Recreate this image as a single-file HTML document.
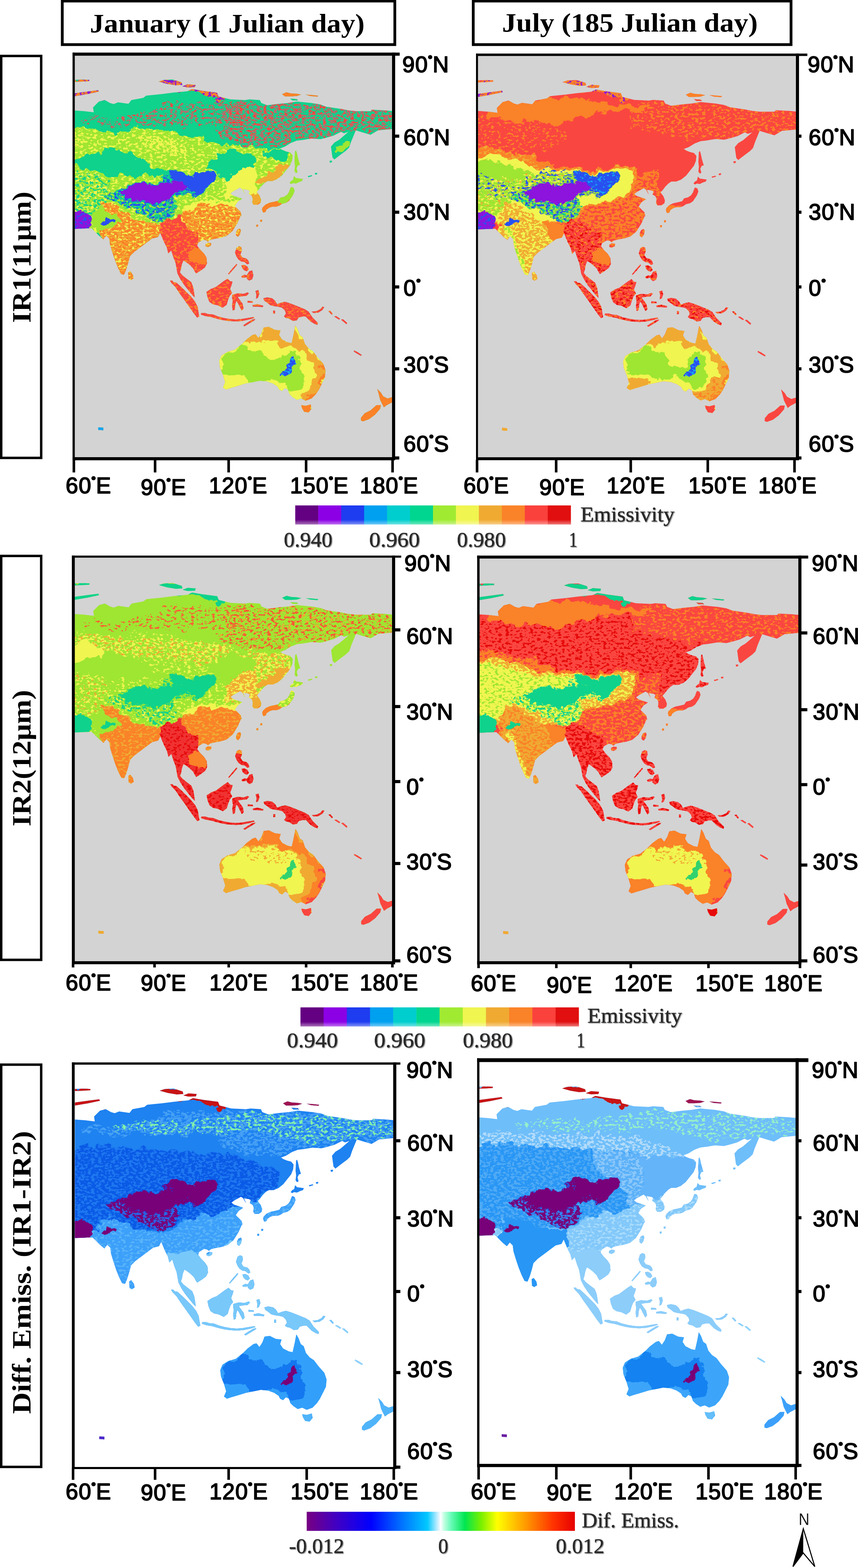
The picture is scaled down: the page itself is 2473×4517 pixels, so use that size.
<!DOCTYPE html>
<html lang="en"><head><meta charset="utf-8"><title>Emissivity maps</title>
<style>html,body{margin:0;padding:0;background:#fff;width:2473px;height:4517px}svg{display:block}.tk{font-family:"Liberation Sans",Arial,Helvetica,sans-serif;font-size:64.5px;fill:#000;stroke:#000;stroke-width:2.4px;stroke-linejoin:round;letter-spacing:1.5px}.dg{font-size:28px;stroke:#000;stroke-width:4.6px}.ti{font-family:"Liberation Serif","Times New Roman",serif;font-weight:bold;font-size:76px;fill:#000}.cb{font-family:"Liberation Serif","Times New Roman",serif;font-size:62px;fill:#2a2a2a;stroke:#2a2a2a;stroke-width:0.7px;filter:drop-shadow(2px 2px 1.2px rgba(90,90,90,0.7))}</style></head><body>
<svg width="2473" height="4517" viewBox="0 0 2473 4517">
<defs>
<path id="land" d="M212.8,318.1L242.6,320.2L270.2,323.6L268.1,309.6L285.1,292.6L302.1,288.3L317.0,296.8L327.7,299.8L340.4,294.7L370.2,298.9L378.7,288.3L412.8,281.9L421.3,275.5L463.8,271.3L497.9,267.0L540.4,262.8L553.2,256.4L583.0,261.5L625.5,267.0L629.8,277.7L663.8,286.2L706.4,288.3L719.1,286.2L748.9,288.3L753.2,296.8L770.2,303.2L804.3,298.9L829.8,296.8L855.3,292.6L897.9,296.8L923.4,301.1L940.4,307.4L983.0,313.8L1004.3,318.1L1025.5,320.2L1068.1,320.2L1072.3,316.0L1110.6,318.1L1134.0,320.2L1134.0,371.3L1110.6,373.4L1089.4,375.5L1068.1,388.3L1046.8,381.9L1025.5,375.5L1012.1,408.0L1006.4,425.0L997.9,433.5L986.5,442.1L975.2,450.6L963.8,459.6L958.2,453.4L956.2,439.2L953.9,422.2L963.8,410.8L978.0,402.3L1004.3,379.8L991.5,384.0L983.0,379.8L961.7,390.4L940.4,396.8L923.4,401.1L897.9,398.9L872.3,403.2L855.3,405.3L838.3,411.7L821.3,422.3L804.3,428.7L807.8,427.9L813.5,432.1L824.8,436.4L836.2,439.2L843.3,447.7L841.8,461.9L836.2,476.1L824.8,490.3L813.5,504.5L799.3,515.8L785.1,521.5L770.9,521.5L762.4,527.2L753.9,535.7L745.4,547.0L739.7,552.7L748.2,564.0L752.5,575.4L751.1,583.9L742.6,590.1L731.2,590.1L727.0,583.9L728.4,572.5L725.5,564.0L717.0,558.4L719.9,549.9L714.2,547.0L700.0,544.7L706.4,559.6L697.9,544.7L691.5,540.4L672.3,551.1L663.8,557.4L672.3,563.8L685.1,568.1L697.9,572.3L685.1,580.9L676.6,593.6L685.1,602.1L693.6,610.6L695.7,623.4L695.7,617.0L684.4,642.6L670.2,665.2L653.2,679.4L636.2,685.1L619.1,687.9L605.0,691.3L599.3,696.5L593.6,692.2L585.1,690.8L570.9,699.3L568.1,707.8L576.6,719.1L587.9,730.5L595.0,741.8L596.5,758.9L590.8,770.2L579.4,778.7L565.2,787.8L561.0,781.6L556.7,773.0L545.4,761.7L534.0,753.2L528.4,750.4L524.1,761.7L521.3,775.9L518.4,784.4L525.5,792.9L539.7,804.3L551.1,812.8L556.7,827.0L559.6,844.0L561.3,856.7L553.9,849.6L542.6,835.5L531.2,821.3L519.9,804.3L511.3,787.2L508.5,770.2L505.7,756.0L500.0,741.8L493.6,721.3L485.1,729.8L480.9,712.8L472.3,695.7L461.7,670.2L455.3,683.0L438.3,687.2L421.3,700.0L404.3,712.8L387.2,725.5L374.5,738.3L370.2,755.3L363.8,776.6L357.4,791.5L348.9,789.4L340.4,772.3L331.9,751.1L323.4,725.5L317.0,704.3L314.9,687.2L306.4,678.7L297.9,689.4L285.1,678.7L274.5,668.1L263.8,657.4L242.6,658.3L212.8,659.6ZM212.8,269.1L242.6,264.9L283.0,259.8L285.1,264.0L251.1,271.3L212.8,277.7ZM212.8,230.0L238.3,229.1L257.4,230.0L257.4,233.8L238.3,235.1L212.8,236.0ZM457.4,235.1L472.3,230.0L497.9,229.1L523.4,237.2L525.5,244.5L506.4,245.7L480.9,241.5ZM525.5,248.7L540.4,242.8L563.8,244.5L561.7,251.3L540.4,252.1ZM812.8,271.3L825.5,265.7L838.3,269.1L855.3,270.0L868.1,272.6L855.3,276.8L838.3,277.7L821.3,277.7ZM880.9,272.6L897.9,273.4L917.0,275.5L914.9,278.5L893.6,276.8ZM836.2,284.0L855.3,285.3L859.6,289.6L842.6,289.6ZM853.2,433.5L856.0,442.1L858.9,456.2L863.1,470.4L864.5,474.7L858.9,476.1L854.6,484.6L857.4,496.0L853.2,498.8L848.9,493.1L850.4,478.9L848.9,464.7L849.8,447.7L850.4,436.4ZM847.5,507.3L853.2,513.0L864.5,514.4L873.0,515.8L870.2,521.5L861.7,524.3L853.2,528.6L844.7,527.2L839.0,530.0L834.8,527.2L839.0,521.5L844.7,518.6ZM839.0,538.5L846.1,541.3L848.9,549.9L844.7,561.2L839.0,569.7L833.3,578.2L824.8,583.9L813.5,586.7L805.0,592.4L796.5,595.2L785.1,595.2L776.6,598.1L768.1,603.8L765.2,610.8L758.2,612.3L755.3,603.8L756.7,598.1L765.2,589.6L776.6,583.9L790.8,581.1L802.1,578.2L807.8,569.7L819.1,566.9L827.7,561.2L833.3,552.7L836.2,544.2ZM680.1,669.5L684.4,661.0L691.5,658.2L694.3,663.8L691.5,675.2L685.8,682.3L680.1,678.0ZM592.2,703.5L599.3,699.3L609.2,700.7L607.8,707.8L599.3,712.1L592.2,709.2ZM369.4,784.3L375.3,780.9L383.0,791.5L385.1,802.1L376.6,807.2L370.2,803.0ZM500.0,812.8L508.5,814.2L522.7,827.0L536.9,841.1L551.1,855.3L562.4,869.5L569.5,883.7L572.3,900.7L574.3,912.1L568.1,914.9L556.7,900.1L545.4,883.7L531.2,863.8L517.0,844.0L505.7,827.0L494.3,815.6L490.1,808.5L497.2,808.5ZM595.0,841.1L607.8,832.6L622.0,827.0L633.3,818.4L644.7,809.9L656.0,802.8L663.1,809.9L670.2,811.3L667.4,821.3L663.1,832.6L668.8,844.0L661.7,852.5L657.4,863.8L653.2,878.0L641.8,886.5L627.7,879.4L613.5,876.6L603.5,869.5L597.9,855.3ZM681.6,713.5L688.7,709.2L695.7,712.1L697.2,722.0L692.9,733.3L698.6,741.8L709.9,744.7L715.6,750.4L718.4,758.9L712.8,761.7L704.3,754.6L695.7,753.2L687.2,747.5L681.6,739.0L677.3,727.7ZM695.7,764.5L704.3,763.1L712.8,767.4L717.0,775.9L711.3,781.6L704.3,778.7L698.6,773.0ZM657.4,788.7L670.2,773.0L681.6,760.3L683.5,763.1L671.6,777.3L659.4,790.6ZM669.5,849.4L685.1,845.1L702.1,846.5L713.5,842.3L717.7,845.1L710.6,852.2L696.5,853.6L685.1,855.6L690.8,863.5L699.3,874.9L702.1,889.1L696.5,894.7L690.8,883.4L685.1,872.1L680.9,866.9L678.0,877.7L676.6,891.9L670.9,894.7L668.9,880.6L670.9,866.4L668.9,857.9ZM736.2,838.0L744.7,835.2L747.5,846.5L743.3,857.9L737.6,860.7L739.0,849.4ZM580.1,901.8L591.5,901.8L600.0,904.7L614.2,906.1L628.4,911.8L645.4,916.0L662.4,918.9L679.4,920.3L696.5,918.9L713.5,916.0L730.5,913.2L733.3,916.0L719.1,920.3L699.3,924.5L679.4,926.0L656.7,924.5L639.7,921.7L622.7,917.4L608.5,913.2L591.5,910.4L578.7,906.1ZM700.7,937.3L713.5,928.8L727.7,920.3L736.2,918.9L733.3,923.1L719.1,931.6L705.0,940.1ZM758.9,859.3L770.2,856.5L784.4,859.3L792.9,866.4L798.6,876.3L809.9,872.1L821.3,869.2L835.5,873.5L849.6,879.1L863.8,884.8L878.0,890.5L889.4,897.6L895.0,906.1L900.7,914.6L909.2,923.1L916.3,930.2L914.9,935.9L906.4,933.0L895.0,926.0L886.5,917.4L880.9,911.8L872.3,911.8L861.0,914.6L855.3,923.1L844.0,924.5L832.6,917.4L824.1,916.0L818.4,911.8L824.1,903.3L821.3,894.7L812.8,886.2L801.4,883.4L790.1,882.0L778.7,879.1L770.2,872.1L761.7,866.4ZM897.9,897.6L912.1,896.2L923.4,890.5L929.1,883.4L934.8,884.8L929.1,893.3L917.7,900.4L903.5,901.8ZM631.9,1039.4L638.3,1024.5L655.3,1013.8L676.6,1007.4L697.9,990.4L710.6,977.7L727.7,964.9L736.2,962.8L744.7,973.4L753.2,960.6L759.6,943.6L774.5,941.5L791.5,950.0L808.5,952.1L804.3,964.9L812.8,977.7L829.8,986.2L840.4,988.3L846.8,960.6L851.1,937.2L857.4,947.9L863.8,964.9L872.3,971.3L878.7,990.4L889.4,1003.2L902.1,1011.7L914.9,1028.7L931.9,1047.9L938.3,1067.0L936.2,1088.3L927.7,1105.3L919.1,1122.3L910.6,1135.1L897.9,1147.9L880.9,1154.3L868.1,1147.9L855.3,1152.1L842.6,1143.6L834.0,1135.1L829.8,1122.3L821.3,1118.1L812.8,1126.6L804.3,1122.3L800.0,1113.8L787.2,1105.3L770.2,1098.9L748.9,1096.8L727.7,1101.1L706.4,1105.3L685.1,1111.7L663.8,1118.1L651.1,1122.3L642.6,1116.0L648.9,1101.1L642.6,1079.8L634.0,1058.5ZM868.1,1167.0L880.9,1169.1L895.7,1164.9L897.9,1177.7L889.4,1188.3L876.6,1186.2L870.2,1175.5ZM1087.2,1120.2L1097.9,1130.9L1104.3,1141.5L1117.0,1147.9L1134.0,1142.8L1134.0,1157.2L1114.9,1167.0L1106.4,1173.4L1102.1,1164.9L1095.7,1152.1L1091.5,1135.1ZM1040.4,1203.2L1051.1,1190.4L1068.1,1181.9L1085.1,1167.0L1097.9,1167.0L1095.7,1177.7L1080.9,1194.7L1063.8,1207.4L1046.8,1213.8L1040.4,1211.7ZM1020.4,1009.6L1029.8,1013.8L1042.6,1022.3L1040.4,1025.3L1027.7,1018.1L1019.6,1012.6ZM283.0,1230.9L297.9,1231.7L297.9,1239.4L283.0,1238.5ZM711.3,792.9L718.4,781.6L727.0,778.7L730.4,792.9L727.0,804.3L718.4,808.5L711.3,802.8ZM695.7,795.7L704.3,791.5L711.3,792.9L711.3,798.6L702.8,800.0L697.2,800.0ZM727.7,879.1L741.8,876.3L758.9,880.6L757.4,884.8L741.8,883.4L729.1,883.4ZM713.5,866.4L727.7,867.8L729.1,872.1L713.5,872.1ZM946.1,896.2L951.8,895.3L958.9,903.8L956.0,906.7ZM963.1,911.8L968.8,910.4L980.1,918.0L977.3,920.8ZM983.0,920.8L988.7,919.7L1000.6,930.2L998.6,933.9ZM787.2,894.7L792.9,894.7L792.9,903.3L787.2,903.3ZM949.6,463.3L956.7,462.5L956.7,467.6L951.1,469.0ZM907.1,498.8L914.2,497.4L914.2,502.2L908.5,503.3ZM887.2,507.3L898.6,504.5L900.0,507.3L888.7,510.7ZM749.6,633.5L755.3,632.7L755.3,638.4L750.5,639.2ZM738.3,647.7L744.0,646.9L744.0,652.5L739.1,653.4Z"/>
<clipPath id="landclip"><use href="#land"/></clipPath>
<clipPath id="frame"><rect x="215.6" y="160.5" width="915.4" height="1156.5"/></clipPath>
<filter id="sp50" x="-15%" y="-15%" width="130%" height="130%" color-interpolation-filters="sRGB"><feTurbulence type="fractalNoise" baseFrequency="0.035" numOctaves="4" seed="7" result="t"/><feDisplacementMap in="SourceGraphic" in2="t" scale="34" xChannelSelector="R" yChannelSelector="G" result="d"/><feTurbulence type="fractalNoise" baseFrequency="0.1 0.16" numOctaves="3" seed="3" result="n"/><feColorMatrix in="n" type="matrix" values="0 0 0 0 0  0 0 0 0 0  0 0 0 0 0  30 0 0 0 -15.40" result="m"/><feComposite in="d" in2="m" operator="in"/></filter>
<filter id="sp30" x="-15%" y="-15%" width="130%" height="130%" color-interpolation-filters="sRGB"><feTurbulence type="fractalNoise" baseFrequency="0.035" numOctaves="4" seed="7" result="t"/><feDisplacementMap in="SourceGraphic" in2="t" scale="34" xChannelSelector="R" yChannelSelector="G" result="d"/><feTurbulence type="fractalNoise" baseFrequency="0.1 0.16" numOctaves="3" seed="11" result="n"/><feColorMatrix in="n" type="matrix" values="0 0 0 0 0  0 0 0 0 0  0 0 0 0 0  0 30 0 0 -16.90" result="m"/><feComposite in="d" in2="m" operator="in"/></filter>
<filter id="sp60" x="-15%" y="-15%" width="130%" height="130%" color-interpolation-filters="sRGB"><feTurbulence type="fractalNoise" baseFrequency="0.035" numOctaves="4" seed="7" result="t"/><feDisplacementMap in="SourceGraphic" in2="t" scale="34" xChannelSelector="R" yChannelSelector="G" result="d"/><feTurbulence type="fractalNoise" baseFrequency="0.1 0.16" numOctaves="3" seed="23" result="n"/><feColorMatrix in="n" type="matrix" values="0 0 0 0 0  0 0 0 0 0  0 0 0 0 0  0 0 30 0 -14.50" result="m"/><feComposite in="d" in2="m" operator="in"/></filter>
<filter id="sp20" x="-15%" y="-15%" width="130%" height="130%" color-interpolation-filters="sRGB"><feTurbulence type="fractalNoise" baseFrequency="0.035" numOctaves="4" seed="7" result="t"/><feDisplacementMap in="SourceGraphic" in2="t" scale="34" xChannelSelector="R" yChannelSelector="G" result="d"/><feTurbulence type="fractalNoise" baseFrequency="0.1 0.16" numOctaves="3" seed="5" result="n"/><feColorMatrix in="n" type="matrix" values="0 0 0 0 0  0 0 0 0 0  0 0 0 0 0  0 0 30 0 -18.10" result="m"/><feComposite in="d" in2="m" operator="in"/></filter>
<filter id="sp10" x="-15%" y="-15%" width="130%" height="130%" color-interpolation-filters="sRGB"><feTurbulence type="fractalNoise" baseFrequency="0.035" numOctaves="4" seed="7" result="t"/><feDisplacementMap in="SourceGraphic" in2="t" scale="34" xChannelSelector="R" yChannelSelector="G" result="d"/><feTurbulence type="fractalNoise" baseFrequency="0.1 0.16" numOctaves="3" seed="17" result="n"/><feColorMatrix in="n" type="matrix" values="0 0 0 0 0  0 0 0 0 0  0 0 0 0 0  30 0 0 0 -19.30" result="m"/><feComposite in="d" in2="m" operator="in"/></filter>
<filter id="rough" x="-15%" y="-15%" width="130%" height="130%" color-interpolation-filters="sRGB"><feTurbulence type="fractalNoise" baseFrequency="0.035" numOctaves="4" seed="7" result="t"/><feDisplacementMap in="SourceGraphic" in2="t" scale="34" xChannelSelector="R" yChannelSelector="G"/></filter>
</defs>
<rect width="2473" height="4517" fill="#fff"/>
<rect x="179.5" y="3.0" width="958.5" height="125.5" fill="#fff" stroke="#000" stroke-width="8"/>
<rect x="1364.0" y="3.0" width="916" height="125.5" fill="#fff" stroke="#000" stroke-width="8"/>
<text class="ti" x="259" y="93" textLength="792" lengthAdjust="spacingAndGlyphs">January (1 Julian day)</text>
<text class="ti" x="1447" y="90.5" textLength="737" lengthAdjust="spacingAndGlyphs">July (185 Julian day)</text>
<rect x="3.5" y="161.2" width="115.2" height="1157.8999999999999" fill="#fff" stroke="#000" stroke-width="7"/>
<text class="ti" transform="translate(88,930.0) rotate(-90)" textLength="378" lengthAdjust="spacingAndGlyphs">IR1(11μm)</text>
<rect x="3.5" y="1601.5" width="115.2" height="1163.6" fill="#fff" stroke="#000" stroke-width="7"/>
<text class="ti" transform="translate(88,2380.5) rotate(-90)" textLength="393" lengthAdjust="spacingAndGlyphs">IR2(12μm)</text>
<rect x="3.5" y="3067.0" width="115.2" height="1158.8000000000002" fill="#fff" stroke="#000" stroke-width="7"/>
<text class="ti" transform="translate(88,4073.0) rotate(-90)" textLength="815" lengthAdjust="spacingAndGlyphs">Diff. Emiss. (IR1-IR2)</text>
<g id="panel1">
<rect x="215.6" y="160.5" width="914.4" height="1156.5" fill="#d3d3d3"/>
<clipPath id="fr1"><rect x="215.6" y="160.5" width="914.4" height="1156.5"/></clipPath>
<g clip-path="url(#fr1)"><g transform="translate(0,0)">
<g clip-path="url(#landclip)"><rect x="150" y="100" width="1050" height="1300" fill="#0fd28c"/><path d="M200,360L253,369L289,383L317,386L342,383L370,376L399,370L427,369L455,372L484,379L512,386L540,390L572,394L590,404L626,418L661,422L696,420L721,422L756,429L799,429L849,432L870,436L870,680L579,680L200,680Z" fill="#9ee632" filter="url(#rough)"/><path d="M200,360L253,369L289,383L317,386L342,383L370,376L399,370L427,369L455,372L484,379L512,386L540,390L572,394L590,404L626,418L661,422L696,420L721,422L756,429L799,429L849,432L870,436L870,680L579,680L200,680Z" fill="#f0f550" filter="url(#sp30)"/><path d="M200,379L228,383L250,397L243,415L221,422L200,422Z" fill="#f0f550" filter="url(#sp50)"/><path d="M399,397L448,394L491,401L519,415L540,432L519,447L484,443L448,436L420,422L399,411Z" fill="#f0f550" filter="url(#sp50)"/><path d="M292,432L317,425L342,429L370,440L392,450L413,464L441,479L470,489L498,497L484,507L448,511L420,508L399,508L370,504L342,508L317,508L292,501L271,494L243,486L221,479L200,472L200,459L236,457L264,450L282,440Z" fill="#0fd28c" filter="url(#rough)"/><path d="M626,436L661,432L704,436L732,450L732,510L704,525L679,510L657,525L626,509L608,493L590,479L618,464L633,450Z" fill="#0fd28c" filter="url(#rough)"/><path d="M756,436L799,432L834,440L827,461L799,464L771,457Z" fill="#0fd28c" filter="url(#rough)"/><path d="M686,493L714,479L739,493L742,535L732,564L703,571L671,564L650,578L650,528L671,507Z" fill="#f0f550" filter="url(#rough)"/><path d="M834,472L827,493L806,510L785,525L764,535L742,535L749,514L771,500L792,486L813,473Z" fill="#f0aa32" filter="url(#rough)"/><path d="M200,493L236,493L271,500L299,510L314,535L306,564L303,592L289,617L271,620L243,610L200,604Z" fill="#9ee632" filter="url(#rough)"/><path d="M200,493L236,493L271,500L299,510L314,535L306,564L303,592L289,617L271,620L243,610L200,604Z" fill="#0fd28c" filter="url(#sp50)"/><path d="M200,493L236,493L271,500L299,510L314,535L306,564L303,592L289,617L271,620L243,610L200,604Z" fill="#f0f550" filter="url(#sp30)"/><path d="M519,610L540,596L562,585L590,578L626,578L661,581L704,585L704,603L661,596L626,592L590,592L562,599L540,610L523,624Z" fill="#f0f550" filter="url(#rough)"/><path d="M289,585L299,590L321,588L342,599L370,617L399,631L427,642L455,645L484,638L505,635L519,620L540,606L562,596L590,588L626,588L661,592L704,599L704,1450L289,1450Z" fill="#fa8228" filter="url(#rough)"/><path d="M289,585L299,590L321,588L342,599L370,617L399,631L427,642L455,645L484,638L505,635L519,620L540,606L562,596L590,588L626,588L661,592L704,599L704,1450L289,1450Z" fill="#f0aa32" filter="url(#sp50)"/><path d="M289,585L299,590L321,588L342,599L370,617L399,631L427,642L455,645L484,638L505,635L519,620L540,606L562,596L590,588L626,588L661,592L704,599L704,1450L289,1450Z" fill="#f0f550" filter="url(#sp20)"/><path d="M721,553L756,553L756,599L721,599Z" fill="#f0aa32" filter="url(#rough)"/><path d="M742,585L799,564L834,550L856,564L827,599L756,628Z" fill="#fa8228" filter="url(#rough)"/><path d="M806,557L834,528L842,500L884,500L884,535L849,564L827,585L810,578Z" fill="#9ee632" filter="url(#rough)"/><path d="M842,429L877,429L877,507L842,507Z" fill="#9ee632" filter="url(#rough)"/><path d="M464,634L496,628L517,641L537,661L564,675L584,702L604,729L611,756L631,769L672,742L712,702L1143,702L1143,971L456,971L456,688Z" fill="#fa4640" filter="url(#rough)"/><path d="M462,635L484,629L505,626L519,620L530,635L537,656L555,680L555,741L470,741L462,670Z" fill="#fa4640" filter="url(#rough)"/><path d="M464,634L496,628L517,641L537,661L564,675L584,702L604,729L611,756L631,769L672,742L712,702L1143,702L1143,971L456,971L456,688Z" fill="#fa8228" filter="url(#sp30)"/><path d="M540,725L564,712L591,722L599,749L588,766L564,769L547,752Z" fill="#fa8228" filter="url(#rough)"/><path d="M267,617L292,592L306,599L342,620L342,635L317,656L292,666L271,656Z" fill="#9ee632" filter="url(#rough)"/><path d="M306,564L335,553L352,546L384,532L413,525L441,521L470,514L491,500L526,494L555,502L583,498L608,498L621,510L610,526L592,541L578,555L562,566L540,560L519,564L505,574L484,581L455,585L427,587L399,583L370,576L352,567L335,566L317,571Z" fill="#0fd28c" filter="url(#rough)"/><path d="M306,564L335,553L352,546L384,532L413,525L441,521L470,514L491,500L526,494L555,502L583,498L608,498L621,510L610,526L592,541L578,555L562,566L540,560L519,564L505,574L484,581L455,585L427,587L399,583L370,576L352,567L335,566L317,571Z" fill="#2850f0" filter="url(#sp50)"/><path d="M306,564L335,560L352,564L370,574L399,581L427,585L455,581L484,578L505,574L519,585L512,599L498,617L484,631L462,638L441,635L413,620L384,606L356,592L328,581L306,574Z" fill="#0fd28c" filter="url(#rough)"/><path d="M306,564L335,560L352,564L370,574L399,581L427,585L455,581L484,578L505,574L519,585L512,599L498,617L484,631L462,638L441,635L413,620L384,606L356,592L328,581L306,574Z" fill="#2850f0" filter="url(#sp50)"/><path d="M306,564L335,560L352,564L370,574L399,581L427,585L455,581L484,578L505,574L519,585L512,599L498,617L484,631L462,638L441,635L413,620L384,606L356,592L328,581L306,574Z" fill="#9ee632" filter="url(#sp30)"/><path d="M491,502L526,496L555,503L583,500L608,500L619,510L608,525L590,539L576,553L562,564L548,557L540,539L519,525L501,517Z" fill="#2850f0" filter="url(#rough)"/><path d="M352,550L384,535L413,528L441,525L470,521L498,518L519,525L540,535L519,550L505,564L484,574L455,578L427,581L399,578L370,571L352,560Z" fill="#8c14dc" filter="url(#rough)"/><path d="M200,604L243,609L264,620L270,638L264,657L200,661Z" fill="#8c14dc" filter="url(#rough)"/><path d="M200,604L243,609L264,620L270,638L264,657L200,661Z" fill="#2850f0" filter="url(#sp30)"/><path d="M283,642L321,627L330,633L293,652Z" fill="#2850f0" filter="url(#rough)"/><path d="M236,337L271,333L314,340L349,333L384,326L427,323L470,301L519,294L590,294L661,287L704,294L704,372L661,365L626,362L590,365L555,362L519,365L484,362L448,358L413,358L377,362L342,365L306,362L271,354L236,351Z" fill="#b46e6e" filter="url(#sp30)"/><path d="M767,294L834,291L898,298L969,308L1040,316L1146,316L1146,386L1076,390L1026,372L969,386L934,401L863,397L827,415L792,422L756,418L721,422L686,415L650,397L622,379L661,358L629,337L657,319L650,301L703,287L739,301Z" fill="#b46e6e" filter="url(#sp50)"/><path d="M236,337L271,333L314,340L349,333L384,326L427,323L470,301L519,294L590,294L661,287L704,294L704,372L661,365L626,362L590,365L555,362L519,365L484,362L448,358L413,358L377,362L342,365L306,362L271,354L236,351Z" fill="#fa4640" filter="url(#sp10)"/><path d="M767,294L834,291L898,298L969,308L1040,316L1146,316L1146,386L1076,390L1026,372L969,386L934,401L863,397L827,415L792,422L756,418L721,422L686,415L650,397L622,379L661,358L629,337L657,319L650,301L703,287L739,301Z" fill="#fa4640" filter="url(#sp20)"/><path d="M969,422L998,411L1008,418L990,432L969,440Z" fill="#9ee632" filter="url(#rough)"/><path d="M200,230L672,230L672,270L631,291L577,270L483,257L402,257L301,284L200,291Z" fill="#fa8228" filter="url(#rough)"/><path d="M200,230L672,230L672,270L631,291L577,270L483,257L402,257L301,284L200,291Z" fill="#8c14dc" filter="url(#sp50)"/><path d="M793,257L941,257L941,287L793,287Z" fill="#fa8228" filter="url(#rough)"/><path d="M616,999L679,960L731,950L747,929L822,929L834,960L844,924L874,924L886,960L957,1031L957,1210L616,1210Z" fill="#f0f550" filter="url(#rough)"/><path d="M634,1031L652,1015L679,1007L703,999L731,1003L751,1019L767,1031L787,1035L806,1031L826,1019L846,1015L862,1031L870,1051L874,1075L878,1099L874,1114L858,1122L838,1126L822,1110L806,1106L787,1099L767,1095L743,1097L719,1102L711,1091L695,1083L679,1079L660,1075L644,1067L636,1051Z" fill="#9ee632" filter="url(#rough)"/><path d="M691,989L715,964L735,960L751,976L757,940L775,938L814,946L808,964L822,979L838,987L848,934L862,968L878,991L902,1019L938,1051L946,1075L934,1106L920,1132L904,1148L878,1158L854,1154L874,1138L894,1122L908,1099L912,1075L904,1055L890,1037L876,1021L862,1009L846,1004L830,997L814,997L799,989L783,981L767,981L751,985L735,981L719,985L703,993Z" fill="#f0aa32" filter="url(#rough)"/><path d="M914,1059L938,1051L946,1075L934,1106L920,1132L904,1148L878,1158L874,1150L896,1138L914,1122L928,1099L936,1075Z" fill="#fa8228" filter="url(#rough)"/><path d="M810,1067L822,1059L830,1047L838,1035L846,1032L849,1043L841,1055L839,1067L831,1078L818,1080L810,1075Z" fill="#2850f0" filter="url(#rough)"/><path d="M810,1067L822,1059L830,1047L838,1035L846,1032L849,1043L841,1055L839,1067L831,1078L818,1080L810,1075Z" fill="#14a5f0" filter="url(#sp30)"/><path d="M862,1158L906,1158L906,1198L862,1198Z" fill="#fa8228" filter="url(#rough)"/><path d="M997,1106L1156,1106L1156,1226L997,1226Z" fill="#fa8228" filter="url(#rough)"/><path d="M965,900L1164,900L1164,1106L965,1106Z" fill="#fa4640" filter="url(#rough)"/><path d="M735,585L800,585L800,700L735,700Z" fill="#fa8228" filter="url(#rough)"/><path d="M260,1200L320,1200L320,1260L260,1260Z" fill="#14a5f0" filter="url(#rough)"/></g>
</g></g>
<rect x="209.1" y="151.5" width="6.5" height="1174.5" fill="#000"/>
<rect x="209.1" y="151.5" width="942.9" height="9" fill="#000"/>
<rect x="1130.0" y="151.5" width="9" height="1174.5" fill="#000"/>
<rect x="209.1" y="1317.0" width="929.9" height="9" fill="#000"/>
<rect x="209.2" y="1325.0" width="7.4" height="36.0" fill="#000"/>
<text class="tk" x="189.3" y="1421.4">60<tspan class="dg" dy="-28">°</tspan><tspan dy="28">E</tspan></text>
<rect x="443.3" y="1325.0" width="7.4" height="36.0" fill="#000"/>
<text class="tk" x="405.5" y="1426.4">90<tspan class="dg" dy="-28">°</tspan><tspan dy="28">E</tspan></text>
<rect x="655.3" y="1325.0" width="7.4" height="36.0" fill="#000"/>
<text class="tk" x="602.0" y="1421.4">120<tspan class="dg" dy="-28">°</tspan><tspan dy="28">E</tspan></text>
<rect x="878.6" y="1325.0" width="7.4" height="36.0" fill="#000"/>
<text class="tk" x="836.0" y="1421.4">150<tspan class="dg" dy="-28">°</tspan><tspan dy="28">E</tspan></text>
<rect x="1127.8" y="1325.0" width="7.4" height="36.0" fill="#000"/>
<text class="tk" x="1037.0" y="1421.4">180<tspan class="dg" dy="-28">°</tspan><tspan dy="28">E</tspan></text>
<text class="tk" x="1159.5" y="207.6">90<tspan class="dg" dy="-28">°</tspan><tspan dy="28">N</tspan></text>
<rect x="1138.0" y="387.7" width="12.8" height="9" fill="#000"/>
<text class="tk" x="1163.1" y="418.3">60<tspan class="dg" dy="-28">°</tspan><tspan dy="28">N</tspan></text>
<rect x="1138.0" y="606.8" width="12.8" height="9" fill="#000"/>
<text class="tk" x="1163.1" y="633.3">30<tspan class="dg" dy="-28">°</tspan><tspan dy="28">N</tspan></text>
<rect x="1138.0" y="822.1" width="12.8" height="9" fill="#000"/>
<text class="tk" x="1163.1" y="851.7">0<tspan class="dg" dy="-28">°</tspan></text>
<rect x="1138.0" y="1058.0" width="12.8" height="9" fill="#000"/>
<text class="tk" x="1163.1" y="1073.2">30<tspan class="dg" dy="-28">°</tspan><tspan dy="28">S</tspan></text>
<rect x="1138.0" y="1314.8" width="12.8" height="9" fill="#000"/>
<text class="tk" x="1163.1" y="1300.8">60<tspan class="dg" dy="-28">°</tspan><tspan dy="28">S</tspan></text>
</g>
<g id="panel2">
<rect x="1377.7" y="161.3" width="916.3" height="1155.9" fill="#d3d3d3"/>
<clipPath id="fr2"><rect x="1377.7" y="161.3" width="916.3" height="1155.9"/></clipPath>
<g clip-path="url(#fr2)"><g transform="translate(1164,1.5)">
<g clip-path="url(#landclip)"><rect x="150" y="100" width="1050" height="1300" fill="#fa4640"/><path d="M253,280L306,280L377,280L448,280L519,280L555,291L590,294L661,298L704,305L704,319L661,319L608,316L555,323L519,333L484,344L448,351L413,354L377,351L342,344L306,347L271,340L243,330Z" fill="#fa8228" filter="url(#rough)"/><path d="M200,319L243,330L271,340L306,347L342,344L377,351L413,354L448,362L470,386L448,415L413,429L360,436L324,436L289,432L253,425L200,422Z" fill="#fa8228" filter="url(#sp20)"/><path d="M703,287L767,294L834,291L898,298L969,308L1040,316L1146,316L1146,386L1076,390L1026,372L969,386L934,401L863,397L827,401L792,397L756,386L721,379L686,372L650,369L650,301Z" fill="#fa8228" filter="url(#sp30)"/><path d="M200,422L253,425L289,432L324,436L360,440L384,454L406,468L434,475L470,479L505,482L540,489L576,486L611,479L647,472L672,479L679,500L672,528L654,557L626,574L590,585L555,592L519,599L505,620L484,635L448,642L200,642Z" fill="#fa8228" filter="url(#rough)"/><path d="M200,422L253,425L289,432L324,436L360,440L384,454L406,468L434,475L470,479L505,482L540,489L576,486L611,479L647,472L672,479L679,500L672,528L654,557L626,574L590,585L555,592L519,599L505,620L484,635L448,642L200,642Z" fill="#f0aa32" filter="url(#sp30)"/><path d="M200,450L253,447L289,450L317,457L342,464L367,479L392,486L427,489L470,489L505,493L540,496L576,493L611,486L643,482L661,493L664,514L654,542L633,564L597,578L555,585L519,588L505,610L484,628L448,635L200,635Z" fill="#f0f550" filter="url(#rough)"/><path d="M200,464L253,461L289,468L317,479L342,486L367,493L399,496L434,500L470,500L491,502L484,514L448,521L413,528L377,535L352,546L335,553L306,564L306,599L271,617L200,604Z" fill="#9ee632" filter="url(#rough)"/><path d="M200,464L253,461L289,468L317,479L342,486L367,493L399,496L434,500L470,500L491,502L484,514L448,521L413,528L377,535L352,546L335,553L306,564L306,599L271,617L200,604Z" fill="#f0f550" filter="url(#sp30)"/><path d="M200,464L253,461L289,468L317,479L342,486L367,493L399,496L434,500L470,500L491,502L484,514L448,521L413,528L377,535L352,546L335,553L306,564L306,599L271,617L200,604Z" fill="#f0aa32" filter="url(#sp10)"/><path d="M200,468L253,464L289,472L317,482L342,489L360,500L342,510L306,516L271,510L236,507L200,507Z" fill="#9ee632" filter="url(#rough)"/><path d="M200,507L221,493L243,507L271,521L306,528L342,521L384,493L427,479L470,486L491,500L470,514L413,528L352,546L306,564L271,571L236,564L200,550Z" fill="#2850f0" filter="url(#sp20)"/><path d="M484,635L505,620L519,599L555,592L590,585L626,574L654,557L672,528L679,500L704,493L732,493L732,776L555,776L519,706L484,670Z" fill="#fa8228" filter="url(#rough)"/><path d="M484,635L505,620L519,599L555,592L590,585L626,574L654,557L672,528L679,500L704,493L732,493L732,776L555,776L519,706L484,670Z" fill="#fa4640" filter="url(#sp50)"/><path d="M289,585L299,590L321,588L342,599L370,617L399,631L427,642L455,645L470,642L480,670L484,741L484,1450L271,1450L271,656Z" fill="#f0aa32" filter="url(#rough)"/><path d="M289,585L299,590L321,588L342,599L370,617L399,631L427,642L455,645L470,642L480,670L484,741L484,1450L271,1450L271,656Z" fill="#f0f550" filter="url(#sp50)"/><path d="M399,631L427,642L455,645L470,642L480,670L477,706L448,723L427,698L413,663Z" fill="#fa8228" filter="url(#rough)"/><path d="M289,656L306,652L321,670L331,706L342,748L356,791L367,833L356,847L342,812L328,769L314,727L299,691Z" fill="#f0f550" filter="url(#rough)"/><path d="M289,656L306,652L321,670L331,706L342,748L356,791L367,833L356,847L342,812L328,769L314,727L299,691Z" fill="#9ee632" filter="url(#sp50)"/><path d="M464,634L496,628L517,641L537,661L564,675L584,702L604,729L611,756L631,769L672,742L712,702L1143,702L1143,971L456,971L456,688Z" fill="#fa4640" filter="url(#rough)"/><path d="M464,634L496,628L517,641L537,661L564,675L584,702L604,729L611,756L631,769L672,742L712,702L1143,702L1143,971L456,971L456,688Z" fill="#e60a0a" filter="url(#sp30)"/><path d="M464,634L496,628L517,641L537,661L564,675L584,702L604,729L611,756L631,769L672,742L712,702L1143,702L1143,971L456,971L456,688Z" fill="#fa8228" filter="url(#sp20)"/><path d="M540,725L564,712L591,722L599,749L588,766L564,769L547,752Z" fill="#fa8228" filter="url(#rough)"/><path d="M306,564L335,553L352,546L384,532L413,525L441,521L470,514L491,500L526,494L555,502L583,498L608,498L621,510L610,526L592,541L578,555L562,566L540,560L519,564L505,574L484,581L455,585L427,587L399,583L370,576L352,567L335,566L317,571Z" fill="#9ee632" filter="url(#rough)"/><path d="M306,564L335,553L352,546L384,532L413,525L441,521L470,514L491,500L526,494L555,502L583,498L608,498L621,510L610,526L592,541L578,555L562,566L540,560L519,564L505,574L484,581L455,585L427,587L399,583L370,576L352,567L335,566L317,571Z" fill="#2850f0" filter="url(#sp50)"/><path d="M306,564L335,560L352,564L370,574L399,581L427,585L455,581L484,578L505,574L519,585L512,599L498,617L484,631L462,638L441,635L413,620L384,606L356,592L328,581L306,574Z" fill="#9ee632" filter="url(#rough)"/><path d="M306,564L335,560L352,564L370,574L399,581L427,585L455,581L484,578L505,574L519,585L512,599L498,617L484,631L462,638L441,635L413,620L384,606L356,592L328,581L306,574Z" fill="#2850f0" filter="url(#sp50)"/><path d="M306,564L335,560L352,564L370,574L399,581L427,585L455,581L484,578L505,574L519,585L512,599L498,617L484,631L462,638L441,635L413,620L384,606L356,592L328,581L306,574Z" fill="#0fd28c" filter="url(#sp30)"/><path d="M491,502L526,496L555,503L583,500L608,500L619,510L608,525L590,539L576,553L562,564L548,557L540,539L519,525L501,517Z" fill="#2850f0" filter="url(#rough)"/><path d="M491,502L526,496L555,503L583,500L608,500L619,510L608,525L590,539L576,553L562,564L548,557L540,539L519,525L501,517Z" fill="#14a5f0" filter="url(#sp20)"/><path d="M352,550L384,535L413,528L441,525L470,521L498,518L519,525L540,535L519,550L505,564L484,574L455,578L427,581L399,578L370,571L352,560Z" fill="#8c14dc" filter="url(#rough)"/><path d="M200,604L243,609L264,620L270,638L264,657L200,661Z" fill="#8c14dc" filter="url(#rough)"/><path d="M200,604L243,609L264,620L270,638L264,657L200,661Z" fill="#2850f0" filter="url(#sp30)"/><path d="M283,642L321,627L330,633L293,652Z" fill="#2850f0" filter="url(#rough)"/><path d="M200,230L672,230L672,270L631,291L577,270L483,257L402,257L301,284L200,291Z" fill="#fa8228" filter="url(#rough)"/><path d="M200,230L672,230L672,270L631,291L577,270L483,257L402,257L301,284L200,291Z" fill="#8c14dc" filter="url(#sp30)"/><path d="M793,257L941,257L941,287L793,287Z" fill="#fa8228" filter="url(#rough)"/><path d="M616,999L679,960L731,950L747,929L822,929L834,960L844,924L874,924L886,960L957,1031L957,1210L616,1210Z" fill="#f0aa32" filter="url(#rough)"/><path d="M624,1019L957,924L957,1210L624,1210Z" fill="#f0f550" filter="url(#rough)"/><path d="M634,1031L652,1015L679,1007L703,999L731,1004L747,1019L755,1035L767,1051L787,1059L806,1055L822,1035L834,1019L850,1015L866,1031L874,1051L874,1075L870,1099L858,1114L838,1116L822,1106L806,1099L787,1091L767,1087L743,1087L723,1091L711,1083L695,1079L679,1075L660,1071L644,1063L636,1051Z" fill="#9ee632" filter="url(#rough)"/><path d="M691,989L715,964L735,960L751,976L757,940L775,938L814,946L808,964L822,979L838,987L848,934L862,968L878,991L902,1019L938,1051L946,1075L934,1106L920,1132L904,1148L878,1158L854,1154L874,1138L894,1122L908,1099L912,1075L904,1055L890,1037L876,1021L862,1009L846,1004L830,997L814,997L799,989L783,981L767,981L751,985L735,981L719,985L703,993Z" fill="#f0aa32" filter="url(#rough)"/><path d="M834,1122L858,1124L878,1106L890,1087L914,1091L918,1122L902,1154L862,1162L838,1146Z" fill="#f0aa32" filter="url(#rough)"/><path d="M834,1122L858,1124L878,1106L890,1087L914,1091L918,1122L902,1154L862,1162L838,1146Z" fill="#fa8228" filter="url(#sp30)"/><path d="M640,1087L664,1087L691,1091L711,1099L711,1114L679,1126L644,1130Z" fill="#f0aa32" filter="url(#rough)"/><path d="M914,1059L938,1051L946,1075L934,1106L920,1132L904,1148L878,1158L874,1150L896,1138L914,1122L928,1099L936,1075Z" fill="#fa8228" filter="url(#rough)"/><path d="M810,1067L822,1059L830,1047L838,1035L846,1032L849,1043L841,1055L839,1067L831,1078L818,1080L810,1075Z" fill="#2850f0" filter="url(#rough)"/><path d="M810,1067L822,1059L830,1047L838,1035L846,1032L849,1043L841,1055L839,1067L831,1078L818,1080L810,1075Z" fill="#14a5f0" filter="url(#sp30)"/><path d="M862,1158L906,1158L906,1198L862,1198Z" fill="#fa4640" filter="url(#rough)"/><path d="M997,1106L1156,1106L1156,1226L997,1226Z" fill="#fa4640" filter="url(#rough)"/><path d="M965,900L1164,900L1164,1106L965,1106Z" fill="#fa4640" filter="url(#rough)"/><path d="M735,585L800,585L800,700L735,700Z" fill="#fa8228" filter="url(#rough)"/><path d="M260,1200L320,1200L320,1260L260,1260Z" fill="#f0aa32" filter="url(#rough)"/></g>
</g></g>
<rect x="1372.0" y="154.3" width="5.7" height="1171.4" fill="#000"/>
<rect x="1372.0" y="154.3" width="955.0" height="7" fill="#000"/>
<rect x="2294.0" y="154.3" width="9" height="1171.4" fill="#000"/>
<rect x="1372.0" y="1317.2" width="931.0" height="8.5" fill="#000"/>
<rect x="1371.3" y="1324.7" width="7.4" height="36.3" fill="#000"/>
<text class="tk" x="1335.9" y="1421.3">60<tspan class="dg" dy="-28">°</tspan><tspan dy="28">E</tspan></text>
<rect x="1599.3" y="1324.7" width="7.4" height="36.3" fill="#000"/>
<text class="tk" x="1554.4" y="1426.3">90<tspan class="dg" dy="-28">°</tspan><tspan dy="28">E</tspan></text>
<rect x="1814.3" y="1324.7" width="7.4" height="36.3" fill="#000"/>
<text class="tk" x="1748.5" y="1421.3">120<tspan class="dg" dy="-28">°</tspan><tspan dy="28">E</tspan></text>
<rect x="2036.3" y="1324.7" width="7.4" height="36.3" fill="#000"/>
<text class="tk" x="1984.0" y="1421.3">150<tspan class="dg" dy="-28">°</tspan><tspan dy="28">E</tspan></text>
<rect x="2286.3" y="1324.7" width="7.4" height="36.3" fill="#000"/>
<text class="tk" x="2185.4" y="1421.3">180<tspan class="dg" dy="-28">°</tspan><tspan dy="28">E</tspan></text>
<text class="tk" x="2327.8" y="207.6">90<tspan class="dg" dy="-28">°</tspan><tspan dy="28">N</tspan></text>
<rect x="2302.0" y="387.7" width="8.0" height="9" fill="#000"/>
<text class="tk" x="2330.8" y="418.3">60<tspan class="dg" dy="-28">°</tspan><tspan dy="28">N</tspan></text>
<rect x="2302.0" y="606.8" width="8.0" height="9" fill="#000"/>
<text class="tk" x="2330.8" y="633.3">30<tspan class="dg" dy="-28">°</tspan><tspan dy="28">N</tspan></text>
<rect x="2302.0" y="822.1" width="8.0" height="9" fill="#000"/>
<text class="tk" x="2330.8" y="851.7">0<tspan class="dg" dy="-28">°</tspan></text>
<rect x="2302.0" y="1058.0" width="8.0" height="9" fill="#000"/>
<text class="tk" x="2330.8" y="1073.2">30<tspan class="dg" dy="-28">°</tspan><tspan dy="28">S</tspan></text>
<rect x="2302.0" y="1314.8" width="8.0" height="9" fill="#000"/>
<text class="tk" x="2330.8" y="1300.8">60<tspan class="dg" dy="-28">°</tspan><tspan dy="28">S</tspan></text>
</g>
<g id="panel3">
<rect x="215.6" y="1606.5" width="914.4" height="1162.5" fill="#d3d3d3"/>
<clipPath id="fr3"><rect x="215.6" y="1606.5" width="914.4" height="1162.5"/></clipPath>
<g clip-path="url(#fr3)"><g transform="translate(0.5,1450.5)">
<g clip-path="url(#landclip)"><rect x="150" y="100" width="1050" height="1300" fill="#9ee632"/><path d="M200,360L253,369L289,383L317,386L342,383L370,376L399,370L427,369L455,372L484,379L512,386L540,390L572,394L590,404L626,418L661,422L696,420L721,422L756,429L799,429L849,432L870,436L870,680L579,680L200,680Z" fill="#9ee632" filter="url(#rough)"/><path d="M200,360L253,369L289,383L317,386L342,383L370,376L399,370L427,369L455,372L484,379L512,386L540,390L572,394L590,404L626,418L661,422L696,420L721,422L756,429L799,429L849,432L870,436L870,680L579,680L200,680Z" fill="#f0f550" filter="url(#sp20)"/><path d="M200,375L267,382L335,388L402,392L470,395L537,398L604,402L658,409L675,432L665,459L631,474L591,467L537,454L470,447L402,440L335,434L301,446L267,457L200,460Z" fill="#f0f550" filter="url(#sp50)"/><path d="M200,375L267,382L335,388L402,392L470,395L537,398L604,402L658,409L675,432L665,459L631,474L591,467L537,454L470,447L402,440L335,434L301,446L267,457L200,460Z" fill="#f0aa32" filter="url(#sp20)"/><path d="M672,432L726,429L780,432L833,439L864,459L847,493L827,520L800,540L773,554L746,567L719,580L685,587L665,567L685,533L699,500L686,466Z" fill="#f0f550" filter="url(#sp50)"/><path d="M672,432L726,429L780,432L833,439L864,459L847,493L827,520L800,540L773,554L746,567L719,580L685,587L665,567L685,533L699,500L686,466Z" fill="#f0aa32" filter="url(#sp30)"/><path d="M200,402L254,398L301,412L309,439L267,457L200,460Z" fill="#f0f550" filter="url(#rough)"/><path d="M292,432L317,425L342,429L370,440L392,450L413,464L441,479L470,489L498,497L484,507L448,511L420,508L399,508L370,504L342,508L317,508L292,501L271,494L243,486L221,479L200,472L200,459L236,457L264,450L282,440Z" fill="#9ee632" filter="url(#rough)"/><path d="M626,436L661,432L704,436L732,450L732,510L704,525L679,510L657,525L626,509L608,493L590,479L618,464L633,450Z" fill="#9ee632" filter="url(#rough)"/><path d="M686,493L714,479L739,493L742,535L732,564L703,571L671,564L650,578L650,528L671,507Z" fill="#f0aa32" filter="url(#rough)"/><path d="M686,493L714,479L739,493L742,535L732,564L703,571L671,564L650,578L650,528L671,507Z" fill="#f0f550" filter="url(#sp50)"/><path d="M834,472L827,493L806,510L785,525L764,535L742,535L749,514L771,500L792,486L813,473Z" fill="#f0aa32" filter="url(#rough)"/><path d="M200,493L236,493L271,500L299,510L314,535L306,564L303,592L289,617L271,620L243,610L200,604Z" fill="#9ee632" filter="url(#rough)"/><path d="M200,493L236,493L271,500L299,510L314,535L306,564L303,592L289,617L271,620L243,610L200,604Z" fill="#f0f550" filter="url(#sp30)"/><path d="M200,493L236,493L271,500L299,510L314,535L306,564L303,592L289,617L271,620L243,610L200,604Z" fill="#f0aa32" filter="url(#sp10)"/><path d="M519,610L540,596L562,585L590,578L626,578L661,581L704,585L704,603L661,596L626,592L590,592L562,599L540,610L523,624Z" fill="#f0f550" filter="url(#rough)"/><path d="M289,585L299,590L321,588L342,599L370,617L399,631L427,642L455,645L484,638L505,635L519,620L540,606L562,596L590,588L626,588L661,592L704,599L704,1450L289,1450Z" fill="#fa8228" filter="url(#rough)"/><path d="M289,585L299,590L321,588L342,599L370,617L399,631L427,642L455,645L484,638L505,635L519,620L540,606L562,596L590,588L626,588L661,592L704,599L704,1450L289,1450Z" fill="#f0aa32" filter="url(#sp30)"/><path d="M721,553L756,553L756,599L721,599Z" fill="#f0aa32" filter="url(#rough)"/><path d="M742,585L799,564L834,550L856,564L827,599L756,628Z" fill="#fa8228" filter="url(#rough)"/><path d="M806,557L834,528L842,500L884,500L884,535L849,564L827,585L810,578Z" fill="#9ee632" filter="url(#rough)"/><path d="M806,557L834,528L842,500L884,500L884,535L849,564L827,585L810,578Z" fill="#f0f550" filter="url(#sp50)"/><path d="M842,429L877,429L877,507L842,507Z" fill="#9ee632" filter="url(#rough)"/><path d="M464,634L496,628L517,641L537,661L564,675L584,702L604,729L611,756L631,769L672,742L712,702L1143,702L1143,971L456,971L456,688Z" fill="#f03232" filter="url(#rough)"/><path d="M462,635L484,629L505,626L519,620L530,635L537,656L555,680L555,741L470,741L462,670Z" fill="#f03232" filter="url(#rough)"/><path d="M464,634L496,628L517,641L537,661L564,675L584,702L604,729L611,756L631,769L672,742L712,702L1143,702L1143,971L456,971L456,688Z" fill="#e60a0a" filter="url(#sp30)"/><path d="M540,725L564,712L591,722L599,749L588,766L564,769L547,752Z" fill="#fa8228" filter="url(#rough)"/><path d="M267,617L292,592L306,599L342,620L342,635L317,656L292,666L271,656Z" fill="#9ee632" filter="url(#rough)"/><path d="M306,564L335,553L352,546L384,532L413,525L441,521L470,514L491,500L526,494L555,502L583,498L608,498L621,510L610,526L592,541L578,555L562,566L540,560L519,564L505,574L484,581L455,585L427,587L399,583L370,576L352,567L335,566L317,571Z" fill="#9ee632" filter="url(#rough)"/><path d="M306,564L335,553L352,546L384,532L413,525L441,521L470,514L491,500L526,494L555,502L583,498L608,498L621,510L610,526L592,541L578,555L562,566L540,560L519,564L505,574L484,581L455,585L427,587L399,583L370,576L352,567L335,566L317,571Z" fill="#0fd28c" filter="url(#sp50)"/><path d="M306,564L335,560L352,564L370,574L399,581L427,585L455,581L484,578L505,574L519,585L512,599L498,617L484,631L462,638L441,635L413,620L384,606L356,592L328,581L306,574Z" fill="#9ee632" filter="url(#rough)"/><path d="M306,564L335,560L352,564L370,574L399,581L427,585L455,581L484,578L505,574L519,585L512,599L498,617L484,631L462,638L441,635L413,620L384,606L356,592L328,581L306,574Z" fill="#0fd28c" filter="url(#sp50)"/><path d="M306,564L335,560L352,564L370,574L399,581L427,585L455,581L484,578L505,574L519,585L512,599L498,617L484,631L462,638L441,635L413,620L384,606L356,592L328,581L306,574Z" fill="#f0f550" filter="url(#sp20)"/><path d="M491,502L526,496L555,503L583,500L608,500L619,510L608,525L590,539L576,553L562,564L548,557L540,539L519,525L501,517Z" fill="#0fd28c" filter="url(#rough)"/><path d="M352,550L384,535L413,528L441,525L470,521L498,518L519,525L540,535L519,550L505,564L484,574L455,578L427,581L399,578L370,571L352,560Z" fill="#0fd28c" filter="url(#rough)"/><path d="M200,604L243,609L264,620L270,638L264,657L200,661Z" fill="#0fd28c" filter="url(#rough)"/><path d="M283,642L321,627L330,633L293,652Z" fill="#0fd28c" filter="url(#rough)"/><path d="M236,337L271,333L314,340L349,333L384,326L427,323L470,301L519,294L590,294L661,287L704,294L704,372L661,365L626,362L590,365L555,362L519,365L484,362L448,358L413,358L377,362L342,365L306,362L271,354L236,351Z" fill="#fa6432" filter="url(#sp20)"/><path d="M767,294L834,291L898,298L969,308L1040,316L1146,316L1146,386L1076,390L1026,372L969,386L934,401L863,397L827,415L792,422L756,418L721,422L686,415L650,397L622,379L661,358L629,337L657,319L650,301L703,287L739,301Z" fill="#fa5a32" filter="url(#sp30)"/><path d="M767,294L834,291L898,298L969,308L1040,316L1146,316L1146,386L1076,390L1026,372L969,386L934,401L863,397L827,415L792,422L756,418L721,422L686,415L650,397L622,379L661,358L629,337L657,319L650,301L703,287L739,301Z" fill="#f0aa32" filter="url(#sp10)"/><path d="M200,230L672,230L672,270L631,291L577,270L483,257L402,257L301,284L200,291Z" fill="#0fd28c" filter="url(#rough)"/><path d="M793,257L941,257L941,287L793,287Z" fill="#0fd28c" filter="url(#rough)"/><path d="M616,999L679,960L731,950L747,929L822,929L834,960L844,924L874,924L886,960L957,1031L957,1210L616,1210Z" fill="#f0aa32" filter="url(#rough)"/><path d="M634,1031L652,1015L679,1007L703,999L731,1003L751,1019L767,1031L787,1035L806,1031L826,1019L846,1015L862,1031L870,1051L874,1075L878,1099L874,1114L858,1122L838,1126L822,1110L806,1106L787,1099L767,1095L743,1097L719,1102L711,1091L695,1083L679,1079L660,1075L644,1067L636,1051Z" fill="#f0f550" filter="url(#rough)"/><path d="M691,989L715,964L735,960L751,976L757,940L775,938L814,946L808,964L822,979L838,987L848,934L862,968L878,991L902,1019L938,1051L946,1075L934,1106L920,1132L904,1148L878,1158L854,1154L874,1138L894,1122L908,1099L912,1075L904,1055L890,1037L876,1021L862,1009L846,1004L830,997L814,997L799,989L783,981L767,981L751,985L735,981L719,985L703,993Z" fill="#fa8228" filter="url(#rough)"/><path d="M699,995L731,989L767,984L799,990L830,999L854,1015L838,1035L799,1039L759,1035L719,1019Z" fill="#f0f550" filter="url(#rough)"/><path d="M699,995L731,989L767,984L799,990L830,999L854,1015L838,1035L799,1039L759,1035L719,1019Z" fill="#f0aa32" filter="url(#sp20)"/><path d="M914,1059L938,1051L946,1075L934,1106L920,1132L904,1148L878,1158L874,1150L896,1138L914,1122L928,1099L936,1075Z" fill="#fa4640" filter="url(#rough)"/><path d="M810,1067L822,1059L830,1047L838,1035L846,1032L849,1043L841,1055L839,1067L831,1078L818,1080L810,1075Z" fill="#32d26e" filter="url(#rough)"/><path d="M862,1158L906,1158L906,1198L862,1198Z" fill="#fa4640" filter="url(#rough)"/><path d="M997,1106L1156,1106L1156,1226L997,1226Z" fill="#fa4640" filter="url(#rough)"/><path d="M965,900L1164,900L1164,1106L965,1106Z" fill="#fa4640" filter="url(#rough)"/><path d="M735,585L800,585L800,700L735,700Z" fill="#fa8228" filter="url(#rough)"/><path d="M260,1200L320,1200L320,1260L260,1260Z" fill="#f0aa32" filter="url(#rough)"/></g>
</g></g>
<rect x="207.1" y="1600.5" width="8.5" height="1177.2" fill="#000"/>
<rect x="207.1" y="1600.5" width="949.3" height="6" fill="#000"/>
<rect x="1130.0" y="1600.5" width="9" height="1177.2" fill="#000"/>
<rect x="207.1" y="2769.0" width="931.9" height="8.7" fill="#000"/>
<rect x="206.9" y="2776.7" width="7.4" height="10.3" fill="#000"/>
<text class="tk" x="189.3" y="2852.8">60<tspan class="dg" dy="-28">°</tspan><tspan dy="28">E</tspan></text>
<rect x="441.7" y="2776.7" width="7.4" height="10.3" fill="#000"/>
<text class="tk" x="405.5" y="2854.3">90<tspan class="dg" dy="-28">°</tspan><tspan dy="28">E</tspan></text>
<rect x="655.5" y="2776.7" width="7.4" height="10.3" fill="#000"/>
<text class="tk" x="603.4" y="2852.8">120<tspan class="dg" dy="-28">°</tspan><tspan dy="28">E</tspan></text>
<rect x="878.6" y="2776.7" width="7.4" height="10.3" fill="#000"/>
<text class="tk" x="837.5" y="2852.8">150<tspan class="dg" dy="-28">°</tspan><tspan dy="28">E</tspan></text>
<rect x="1127.3" y="2776.7" width="7.4" height="10.3" fill="#000"/>
<text class="tk" x="1037.0" y="2852.8">180<tspan class="dg" dy="-28">°</tspan><tspan dy="28">E</tspan></text>
<text class="tk" x="1165.5" y="1645.1">90<tspan class="dg" dy="-28">°</tspan><tspan dy="28">N</tspan></text>
<rect x="1138.0" y="1810.0" width="16.0" height="9" fill="#000"/>
<text class="tk" x="1171.5" y="1854.6">60<tspan class="dg" dy="-28">°</tspan><tspan dy="28">N</tspan></text>
<rect x="1138.0" y="2030.9" width="16.0" height="9" fill="#000"/>
<text class="tk" x="1171.5" y="2073.0">30<tspan class="dg" dy="-28">°</tspan><tspan dy="28">N</tspan></text>
<rect x="1138.0" y="2247.0" width="16.0" height="9" fill="#000"/>
<text class="tk" x="1171.5" y="2288.5">0<tspan class="dg" dy="-28">°</tspan></text>
<rect x="1138.0" y="2483.0" width="16.0" height="9" fill="#000"/>
<text class="tk" x="1171.5" y="2505.2">30<tspan class="dg" dy="-28">°</tspan><tspan dy="28">S</tspan></text>
<rect x="1138.0" y="2763.5" width="16.0" height="9" fill="#000"/>
<text class="tk" x="1171.5" y="2772.5">60<tspan class="dg" dy="-28">°</tspan><tspan dy="28">S</tspan></text>
</g>
<g id="panel4">
<rect x="1382.3" y="1609.0" width="918.7" height="1160.0" fill="#d3d3d3"/>
<clipPath id="fr4"><rect x="1382.3" y="1609.0" width="918.7" height="1160.0"/></clipPath>
<g clip-path="url(#fr4)"><g transform="translate(1165.47,1451.5) scale(1.0056,1)">
<g clip-path="url(#landclip)"><rect x="150" y="100" width="1050" height="1300" fill="#fa4640"/><path d="M253,280L306,280L377,280L448,280L519,280L555,291L590,294L661,298L704,305L704,319L661,319L608,316L555,323L519,333L484,344L448,351L413,354L377,351L342,344L306,347L271,340L243,330Z" fill="#fa8228" filter="url(#rough)"/><path d="M200,319L243,330L271,340L306,347L342,344L377,351L413,354L448,351L484,344L519,333L555,323L704,319L704,479L647,472L611,479L576,486L540,489L505,482L470,479L434,475L406,468L384,454L360,440L324,436L289,432L253,425L200,422Z" fill="#e60a0a" filter="url(#sp30)"/><path d="M593,351L686,372L721,379L756,386L792,397L870,397L870,528L756,550L686,528L632,493L593,479Z" fill="#e60a0a" filter="url(#sp30)"/><path d="M703,287L767,294L834,291L898,298L969,308L1040,316L1146,316L1146,386L1076,390L1026,372L969,386L934,401L863,397L827,401L792,397L756,386L721,379L686,372L650,369L650,301Z" fill="#fa8228" filter="url(#sp30)"/><path d="M200,422L253,425L289,432L324,436L360,440L384,454L406,468L434,475L470,479L505,482L540,489L576,486L611,479L647,472L672,479L679,500L672,528L654,557L626,574L590,585L555,592L519,599L505,620L484,635L448,642L200,642Z" fill="#fa8228" filter="url(#rough)"/><path d="M200,422L253,425L289,432L324,436L360,440L384,454L406,468L434,475L470,479L505,482L540,489L576,486L611,479L647,472L672,479L679,500L672,528L654,557L626,574L590,585L555,592L519,599L505,620L484,635L448,642L200,642Z" fill="#fa4640" filter="url(#sp30)"/><path d="M200,450L253,447L289,450L317,457L342,464L367,479L392,486L427,489L470,489L505,493L540,496L576,493L611,486L643,482L661,493L664,514L654,542L633,564L597,578L555,585L519,588L505,610L484,628L448,635L200,635Z" fill="#f0aa32" filter="url(#rough)"/><path d="M200,450L253,447L289,450L317,457L342,464L367,479L392,486L427,489L470,489L505,493L540,496L576,493L611,486L643,482L661,493L664,514L654,542L633,564L597,578L555,585L519,588L505,610L484,628L448,635L200,635Z" fill="#f0f550" filter="url(#sp50)"/><path d="M200,464L253,461L289,468L317,479L342,486L367,493L399,496L434,500L470,500L491,502L484,514L448,521L413,528L377,535L352,546L335,553L306,564L306,599L271,617L200,604Z" fill="#f0f550" filter="url(#rough)"/><path d="M200,464L253,461L289,468L317,479L342,486L367,493L399,496L434,500L470,500L491,502L484,514L448,521L413,528L377,535L352,546L335,553L306,564L306,599L271,617L200,604Z" fill="#9ee632" filter="url(#sp30)"/><path d="M200,468L253,464L289,472L317,482L342,489L360,500L342,510L306,516L271,510L236,507L200,507Z" fill="#f0f550" filter="url(#rough)"/><path d="M200,468L253,464L289,472L317,482L342,489L360,500L342,510L306,516L271,510L236,507L200,507Z" fill="#9ee632" filter="url(#sp30)"/><path d="M484,635L505,620L519,599L555,592L590,585L626,574L654,557L672,528L679,500L704,493L732,493L732,776L555,776L519,706L484,670Z" fill="#fa4640" filter="url(#rough)"/><path d="M484,635L505,620L519,599L555,592L590,585L626,574L654,557L672,528L679,500L704,493L732,493L732,776L555,776L519,706L484,670Z" fill="#fa8228" filter="url(#sp50)"/><path d="M289,585L299,590L321,588L342,599L370,617L399,631L427,642L455,645L470,642L480,670L484,741L484,1450L271,1450L271,656Z" fill="#f0aa32" filter="url(#rough)"/><path d="M289,585L299,590L321,588L342,599L370,617L399,631L427,642L455,645L470,642L480,670L484,741L484,1450L271,1450L271,656Z" fill="#fa8228" filter="url(#sp50)"/><path d="M399,631L427,642L455,645L470,642L480,670L477,706L448,723L427,698L413,663Z" fill="#fa8228" filter="url(#rough)"/><path d="M289,656L306,652L321,670L331,706L342,748L356,791L367,833L356,847L342,812L328,769L314,727L299,691Z" fill="#f0f550" filter="url(#rough)"/><path d="M289,656L306,652L321,670L331,706L342,748L356,791L367,833L356,847L342,812L328,769L314,727L299,691Z" fill="#f0aa32" filter="url(#sp50)"/><path d="M464,634L496,628L517,641L537,661L564,675L584,702L604,729L611,756L631,769L672,742L712,702L1143,702L1143,971L456,971L456,688Z" fill="#fa4640" filter="url(#rough)"/><path d="M464,634L496,628L517,641L537,661L564,675L584,702L604,729L611,756L631,769L672,742L712,702L1143,702L1143,971L456,971L456,688Z" fill="#e60a0a" filter="url(#sp50)"/><path d="M306,564L335,553L352,546L384,532L413,525L441,521L470,514L491,500L526,494L555,502L583,498L608,498L621,510L610,526L592,541L578,555L562,566L540,560L519,564L505,574L484,581L455,585L427,587L399,583L370,576L352,567L335,566L317,571Z" fill="#f0f550" filter="url(#rough)"/><path d="M306,564L335,553L352,546L384,532L413,525L441,521L470,514L491,500L526,494L555,502L583,498L608,498L621,510L610,526L592,541L578,555L562,566L540,560L519,564L505,574L484,581L455,585L427,587L399,583L370,576L352,567L335,566L317,571Z" fill="#0fd28c" filter="url(#sp50)"/><path d="M306,564L335,560L352,564L370,574L399,581L427,585L455,581L484,578L505,574L519,585L512,599L498,617L484,631L462,638L441,635L413,620L384,606L356,592L328,581L306,574Z" fill="#f0f550" filter="url(#rough)"/><path d="M306,564L335,560L352,564L370,574L399,581L427,585L455,581L484,578L505,574L519,585L512,599L498,617L484,631L462,638L441,635L413,620L384,606L356,592L328,581L306,574Z" fill="#0fd28c" filter="url(#sp50)"/><path d="M306,564L335,560L352,564L370,574L399,581L427,585L455,581L484,578L505,574L519,585L512,599L498,617L484,631L462,638L441,635L413,620L384,606L356,592L328,581L306,574Z" fill="#9ee632" filter="url(#sp30)"/><path d="M491,502L526,496L555,503L583,500L608,500L619,510L608,525L590,539L576,553L562,564L548,557L540,539L519,525L501,517Z" fill="#0fd28c" filter="url(#rough)"/><path d="M352,550L384,535L413,528L441,525L470,521L498,518L519,525L540,535L519,550L505,564L484,574L455,578L427,581L399,578L370,571L352,560Z" fill="#0fd28c" filter="url(#rough)"/><path d="M200,604L243,609L264,620L270,638L264,657L200,661Z" fill="#0fd28c" filter="url(#rough)"/><path d="M283,642L321,627L330,633L293,652Z" fill="#0fd28c" filter="url(#rough)"/><path d="M200,230L672,230L672,270L631,291L577,270L483,257L402,257L301,284L200,291Z" fill="#0fd28c" filter="url(#rough)"/><path d="M793,257L941,257L941,287L793,287Z" fill="#0fd28c" filter="url(#rough)"/><path d="M616,999L679,960L731,950L747,929L822,929L834,960L844,924L874,924L886,960L957,1031L957,1210L616,1210Z" fill="#fa8228" filter="url(#rough)"/><path d="M634,1031L652,1015L679,1007L703,999L731,1003L751,1019L767,1031L787,1035L806,1031L826,1019L846,1015L862,1031L870,1051L874,1075L878,1099L874,1114L858,1122L838,1126L822,1110L806,1106L787,1099L767,1095L743,1097L719,1102L711,1091L695,1083L679,1079L660,1075L644,1067L636,1051Z" fill="#f0f550" filter="url(#rough)"/><path d="M691,989L715,964L735,960L751,976L757,940L775,938L814,946L808,964L822,979L838,987L848,934L862,968L878,991L902,1019L938,1051L946,1075L934,1106L920,1132L904,1148L878,1158L854,1154L874,1138L894,1122L908,1099L912,1075L904,1055L890,1037L876,1021L862,1009L846,1004L830,997L814,997L799,989L783,981L767,981L751,985L735,981L719,985L703,993Z" fill="#fa8228" filter="url(#rough)"/><path d="M699,995L731,989L767,984L799,990L830,999L854,1015L838,1035L799,1039L759,1035L719,1019Z" fill="#f0f550" filter="url(#rough)"/><path d="M699,995L731,989L767,984L799,990L830,999L854,1015L838,1035L799,1039L759,1035L719,1019Z" fill="#f0aa32" filter="url(#sp20)"/><path d="M834,1122L858,1124L878,1106L890,1087L914,1091L918,1122L902,1154L862,1162L838,1146Z" fill="#fa8228" filter="url(#rough)"/><path d="M914,1059L938,1051L946,1075L934,1106L920,1132L904,1148L878,1158L874,1150L896,1138L914,1122L928,1099L936,1075Z" fill="#fa4640" filter="url(#rough)"/><path d="M810,1067L822,1059L830,1047L838,1035L846,1032L849,1043L841,1055L839,1067L831,1078L818,1080L810,1075Z" fill="#32d26e" filter="url(#rough)"/><path d="M862,1158L906,1158L906,1198L862,1198Z" fill="#e60a0a" filter="url(#rough)"/><path d="M997,1106L1156,1106L1156,1226L997,1226Z" fill="#fa4640" filter="url(#rough)"/><path d="M965,900L1164,900L1164,1106L965,1106Z" fill="#fa4640" filter="url(#rough)"/><path d="M735,585L800,585L800,700L735,700Z" fill="#fa8228" filter="url(#rough)"/><path d="M260,1200L320,1200L320,1260L260,1260Z" fill="#f0aa32" filter="url(#rough)"/></g>
</g></g>
<rect x="1375.3" y="1600.5" width="7" height="1177.2" fill="#000"/>
<rect x="1375.3" y="1600.5" width="954.2" height="8.5" fill="#000"/>
<rect x="2301.0" y="1600.5" width="9" height="1177.2" fill="#000"/>
<rect x="1375.3" y="2769.0" width="934.7" height="8.7" fill="#000"/>
<rect x="1375.6" y="2776.7" width="7.4" height="12.3" fill="#000"/>
<text class="tk" x="1357.0" y="2854.5">60<tspan class="dg" dy="-28">°</tspan><tspan dy="28">E</tspan></text>
<rect x="1599.8" y="2776.7" width="7.4" height="12.3" fill="#000"/>
<text class="tk" x="1575.5" y="2860.0">90<tspan class="dg" dy="-28">°</tspan><tspan dy="28">E</tspan></text>
<rect x="1814.3" y="2776.7" width="7.4" height="12.3" fill="#000"/>
<text class="tk" x="1770.3" y="2854.5">120<tspan class="dg" dy="-28">°</tspan><tspan dy="28">E</tspan></text>
<rect x="2038.3" y="2776.7" width="7.4" height="12.3" fill="#000"/>
<text class="tk" x="2004.4" y="2854.5">150<tspan class="dg" dy="-28">°</tspan><tspan dy="28">E</tspan></text>
<rect x="2302.1" y="2776.7" width="7.4" height="12.3" fill="#000"/>
<text class="tk" x="2202.5" y="2854.5">180<tspan class="dg" dy="-28">°</tspan><tspan dy="28">E</tspan></text>
<text class="tk" x="2339.8" y="1645.1">90<tspan class="dg" dy="-28">°</tspan><tspan dy="28">N</tspan></text>
<rect x="2309.0" y="1818.8" width="18.0" height="9" fill="#000"/>
<text class="tk" x="2342.8" y="1854.6">60<tspan class="dg" dy="-28">°</tspan><tspan dy="28">N</tspan></text>
<rect x="2309.0" y="2040.0" width="18.0" height="9" fill="#000"/>
<text class="tk" x="2342.8" y="2073.0">30<tspan class="dg" dy="-28">°</tspan><tspan dy="28">N</tspan></text>
<rect x="2309.0" y="2255.8" width="18.0" height="9" fill="#000"/>
<text class="tk" x="2342.8" y="2288.5">0<tspan class="dg" dy="-28">°</tspan></text>
<rect x="2309.0" y="2487.5" width="18.0" height="9" fill="#000"/>
<text class="tk" x="2342.8" y="2505.2">30<tspan class="dg" dy="-28">°</tspan><tspan dy="28">S</tspan></text>
<rect x="2309.0" y="2763.5" width="18.0" height="9" fill="#000"/>
<text class="tk" x="2342.8" y="2772.5">60<tspan class="dg" dy="-28">°</tspan><tspan dy="28">S</tspan></text>
</g>
<g id="panel5">
<rect x="215.2" y="3067.0" width="918.0999999999999" height="1159.0" fill="#ffffff"/>
<clipPath id="fr5"><rect x="215.2" y="3067.0" width="918.0999999999999" height="1159.0"/></clipPath>
<g clip-path="url(#fr5)"><g transform="translate(3,2907)">
<g clip-path="url(#landclip)"><rect x="150" y="100" width="1050" height="1300" fill="#1e82f0"/><path d="M236,337L271,333L314,340L349,333L384,326L427,323L470,301L519,294L590,294L661,287L704,294L704,372L661,365L626,362L590,365L555,362L519,365L484,362L448,358L413,358L377,362L342,365L306,362L271,354L236,351Z" fill="#46a0f5" filter="url(#sp60)"/><path d="M767,294L834,291L898,298L969,308L1040,316L1146,316L1146,386L1076,390L1026,372L969,386L934,401L863,397L827,415L792,422L756,418L721,422L686,415L650,397L622,379L661,358L629,337L657,319L650,301L703,287L739,301Z" fill="#46a0f5" filter="url(#sp60)"/><path d="M200,398L301,395L402,402L503,409L604,415L685,425L753,446L806,473L793,513L753,540L712,567L672,580L631,594L577,594L524,607L483,634L402,634L335,607L288,607L267,675L200,675Z" fill="#0a5ae6" filter="url(#rough)"/><path d="M200,398L301,395L402,402L503,409L604,415L685,425L753,446L806,473L793,513L753,540L712,567L672,580L631,594L577,594L524,607L483,634L402,634L335,607L288,607L267,675L200,675Z" fill="#1e78f0" filter="url(#sp50)"/><path d="M280,634L294,607L308,597L335,607L375,624L416,638L456,644L490,638L510,621L537,607L564,597L604,594L645,580L685,567L732,547L1143,547L1143,971L200,971L200,675Z" fill="#3ca0fa" filter="url(#rough)"/><path d="M280,634L294,607L308,597L335,607L375,624L416,638L456,644L490,638L510,621L537,607L564,597L604,594L645,580L685,567L732,547L1143,547L1143,971L200,971L200,675Z" fill="#5ab4fa" filter="url(#sp30)"/><path d="M456,702L604,702L672,668L1143,668L1143,971L456,971Z" fill="#78c8fa" filter="url(#rough)"/><path d="M306,564L335,553L352,546L384,532L413,525L441,521L470,514L491,500L526,494L555,502L583,498L608,498L621,510L610,526L592,541L578,555L562,566L540,560L519,564L505,574L484,581L455,585L427,587L399,583L370,576L352,567L335,566L317,571Z" fill="#780078" filter="url(#rough)"/><path d="M306,564L335,553L352,546L384,532L413,525L441,521L470,514L491,500L526,494L555,502L583,498L608,498L621,510L610,526L592,541L578,555L562,566L540,560L519,564L505,574L484,581L455,585L427,587L399,583L370,576L352,567L335,566L317,571Z" fill="#3c28be" filter="url(#sp30)"/><path d="M306,564L335,560L352,564L370,574L399,581L427,585L455,581L484,578L505,574L519,585L512,599L498,617L484,631L462,638L441,635L413,620L384,606L356,592L328,581L306,574Z" fill="#780078" filter="url(#rough)"/><path d="M306,564L335,560L352,564L370,574L399,581L427,585L455,581L484,578L505,574L519,585L512,599L498,617L484,631L462,638L441,635L413,620L384,606L356,592L328,581L306,574Z" fill="#2864e6" filter="url(#sp50)"/><path d="M352,550L384,535L413,528L441,525L470,521L498,518L519,525L540,535L519,550L505,564L484,574L455,578L427,581L399,578L370,571L352,560Z" fill="#780078" filter="url(#rough)"/><path d="M491,502L526,496L555,503L583,500L608,500L619,510L608,525L590,539L576,553L562,564L548,557L540,539L519,525L501,517Z" fill="#780078" filter="url(#rough)"/><path d="M200,604L243,609L264,620L270,638L264,657L200,661Z" fill="#780078" filter="url(#rough)"/><path d="M283,642L321,627L330,633L293,652Z" fill="#780078" filter="url(#rough)"/><path d="M321,331L375,324L436,321L503,324L571,318L638,311L712,297L773,301L840,308L908,304L975,308L1042,314L1096,324L1143,338L1143,365L1076,365L1009,375L941,385L874,382L820,372L773,358L712,345L638,361L571,361L503,358L436,351L375,348L321,348Z" fill="#82f0aa" filter="url(#sp30)"/><path d="M200,230L672,230L672,270L631,291L577,270L483,257L402,257L301,284L200,291Z" fill="#c81414" filter="url(#rough)"/><path d="M793,257L941,257L941,287L793,287Z" fill="#a01450" filter="url(#rough)"/><path d="M616,999L679,960L731,950L747,929L822,929L834,960L844,924L874,924L886,960L957,1031L957,1210L616,1210Z" fill="#32a0fa" filter="url(#rough)"/><path d="M634,1031L652,1015L679,1007L703,999L731,1003L751,1019L767,1031L787,1035L806,1031L826,1019L846,1015L862,1031L870,1051L874,1075L878,1099L874,1114L858,1122L838,1126L822,1110L806,1106L787,1099L767,1095L743,1097L719,1102L711,1091L695,1083L679,1079L660,1075L644,1067L636,1051Z" fill="#1478f0" filter="url(#rough)"/><path d="M810,1067L822,1059L830,1047L838,1035L846,1032L849,1043L841,1055L839,1067L831,1078L818,1080L810,1075Z" fill="#780078" filter="url(#rough)"/><path d="M862,1158L906,1158L906,1198L862,1198Z" fill="#50b4fa" filter="url(#rough)"/><path d="M997,1106L1156,1106L1156,1226L997,1226Z" fill="#50b4fa" filter="url(#rough)"/><path d="M965,900L1164,900L1164,1106L965,1106Z" fill="#8cd2fa" filter="url(#rough)"/><path d="M260,1200L320,1200L320,1260L260,1260Z" fill="#5028c8" filter="url(#rough)"/></g>
</g></g>
<rect x="207.2" y="3060.5" width="8" height="1171.5" fill="#000"/>
<rect x="207.2" y="3060.5" width="946.8" height="6.5" fill="#000"/>
<rect x="1133.3" y="3060.5" width="9" height="1171.5" fill="#000"/>
<rect x="207.2" y="4226.0" width="935.1" height="6" fill="#000"/>
<rect x="206.9" y="4231.0" width="7.4" height="32.0" fill="#000"/>
<text class="tk" x="189.3" y="4318.8">60<tspan class="dg" dy="-28">°</tspan><tspan dy="28">E</tspan></text>
<rect x="443.3" y="4231.0" width="7.4" height="32.0" fill="#000"/>
<text class="tk" x="405.5" y="4321.8">90<tspan class="dg" dy="-28">°</tspan><tspan dy="28">E</tspan></text>
<rect x="655.3" y="4231.0" width="7.4" height="32.0" fill="#000"/>
<text class="tk" x="603.4" y="4318.8">120<tspan class="dg" dy="-28">°</tspan><tspan dy="28">E</tspan></text>
<rect x="880.3" y="4231.0" width="7.4" height="32.0" fill="#000"/>
<text class="tk" x="837.5" y="4318.8">150<tspan class="dg" dy="-28">°</tspan><tspan dy="28">E</tspan></text>
<rect x="1131.3" y="4231.0" width="7.4" height="32.0" fill="#000"/>
<text class="tk" x="1037.0" y="4318.8">180<tspan class="dg" dy="-28">°</tspan><tspan dy="28">E</tspan></text>
<text class="tk" x="1171.5" y="3104.8">90<tspan class="dg" dy="-28">°</tspan><tspan dy="28">N</tspan></text>
<rect x="1141.3" y="3281.7" width="12.7" height="9" fill="#000"/>
<text class="tk" x="1173.8" y="3314.8">60<tspan class="dg" dy="-28">°</tspan><tspan dy="28">N</tspan></text>
<rect x="1141.3" y="3503.5" width="12.7" height="9" fill="#000"/>
<text class="tk" x="1173.8" y="3533.3">30<tspan class="dg" dy="-28">°</tspan><tspan dy="28">N</tspan></text>
<rect x="1141.3" y="3716.0" width="12.7" height="9" fill="#000"/>
<text class="tk" x="1173.8" y="3748.8">0<tspan class="dg" dy="-28">°</tspan></text>
<rect x="1141.3" y="3949.5" width="12.7" height="9" fill="#000"/>
<text class="tk" x="1173.8" y="3967.2">30<tspan class="dg" dy="-28">°</tspan><tspan dy="28">S</tspan></text>
<rect x="1141.3" y="4222.0" width="12.7" height="9" fill="#000"/>
<text class="tk" x="1173.8" y="4203.2">60<tspan class="dg" dy="-28">°</tspan><tspan dy="28">S</tspan></text>
</g>
<g id="panel6">
<rect x="1381.8" y="3059.5" width="911.2" height="1157.5" fill="#ffffff"/>
<clipPath id="fr6"><rect x="1381.8" y="3059.5" width="911.2" height="1157.5"/></clipPath>
<g clip-path="url(#fr6)"><g transform="translate(1163,2900.5)">
<g clip-path="url(#landclip)"><rect x="150" y="100" width="1050" height="1300" fill="#6ebefa"/><path d="M200,365L301,358L402,365L537,368L672,375L753,398L806,425L847,446L847,500L806,533L739,526L685,513L672,459L604,452L537,456L470,452L402,432L335,425L267,422L200,425Z" fill="#b4dcfa" filter="url(#sp50)"/><path d="M200,398L301,395L402,402L503,409L604,415L685,425L753,446L806,473L793,513L753,540L712,567L672,580L631,594L577,594L524,607L483,634L402,634L335,607L288,607L267,675L200,675Z" fill="#2896f5" filter="url(#rough)"/><path d="M200,398L301,395L402,402L503,409L604,415L685,425L753,446L806,473L793,513L753,540L712,567L672,580L631,594L577,594L524,607L483,634L402,634L335,607L288,607L267,675L200,675Z" fill="#50aaf5" filter="url(#sp50)"/><path d="M550,412L618,419L685,425L753,446L806,473L793,513L753,540L712,567L672,580L645,567L631,526L604,500L577,486L550,452Z" fill="#5ab0f8" filter="url(#rough)"/><path d="M550,412L618,419L685,425L753,446L806,473L793,513L753,540L712,567L672,580L645,567L631,526L604,500L577,486L550,452Z" fill="#8cc8fa" filter="url(#sp50)"/><path d="M672,432L726,429L780,432L833,439L864,459L847,493L827,520L800,540L773,554L746,567L719,580L685,587L665,567L685,533L699,500L686,466Z" fill="#64b4fa" filter="url(#rough)"/><path d="M280,634L294,607L308,597L335,607L375,624L416,638L456,644L490,638L510,621L537,607L564,597L604,594L645,580L685,567L732,547L1143,547L1143,971L200,971L200,675Z" fill="#82c8fa" filter="url(#rough)"/><path d="M280,634L294,607L308,597L335,607L375,624L416,638L456,644L490,638L510,621L537,607L564,597L604,594L645,580L685,567L732,547L1143,547L1143,971L200,971L200,675Z" fill="#aadcfc" filter="url(#sp30)"/><path d="M280,634L294,607L308,597L335,607L375,624L416,638L456,644L470,634L476,702L402,810L308,810L267,702Z" fill="#2896f5" filter="url(#rough)"/><path d="M456,702L604,702L672,668L1143,668L1143,971L456,971Z" fill="#8ccdfa" filter="url(#rough)"/><path d="M306,564L335,553L352,546L384,532L413,525L441,521L470,514L491,500L526,494L555,502L583,498L608,498L621,510L610,526L592,541L578,555L562,566L540,560L519,564L505,574L484,581L455,585L427,587L399,583L370,576L352,567L335,566L317,571Z" fill="#780078" filter="url(#rough)"/><path d="M306,564L335,553L352,546L384,532L413,525L441,521L470,514L491,500L526,494L555,502L583,498L608,498L621,510L610,526L592,541L578,555L562,566L540,560L519,564L505,574L484,581L455,585L427,587L399,583L370,576L352,567L335,566L317,571Z" fill="#2850dc" filter="url(#sp30)"/><path d="M306,564L335,560L352,564L370,574L399,581L427,585L455,581L484,578L505,574L519,585L512,599L498,617L484,631L462,638L441,635L413,620L384,606L356,592L328,581L306,574Z" fill="#780078" filter="url(#rough)"/><path d="M306,564L335,560L352,564L370,574L399,581L427,585L455,581L484,578L505,574L519,585L512,599L498,617L484,631L462,638L441,635L413,620L384,606L356,592L328,581L306,574Z" fill="#3282f0" filter="url(#sp50)"/><path d="M352,550L384,535L413,528L441,525L470,521L498,518L519,525L540,535L519,550L505,564L484,574L455,578L427,581L399,578L370,571L352,560Z" fill="#780078" filter="url(#rough)"/><path d="M491,502L526,496L555,503L583,500L608,500L619,510L608,525L590,539L576,553L562,564L548,557L540,539L519,525L501,517Z" fill="#780078" filter="url(#rough)"/><path d="M200,604L243,609L264,620L270,638L264,657L200,661Z" fill="#780078" filter="url(#rough)"/><path d="M283,642L321,627L330,633L293,652Z" fill="#780078" filter="url(#rough)"/><path d="M321,331L375,324L436,321L503,324L571,318L638,311L712,297L773,301L840,308L908,304L975,308L1042,314L1096,324L1143,338L1143,365L1076,365L1009,375L941,385L874,382L820,372L773,358L712,345L638,361L571,361L503,358L436,351L375,348L321,348Z" fill="#96f0c8" filter="url(#sp30)"/><path d="M200,230L672,230L672,270L631,291L577,270L483,257L402,257L301,284L200,291Z" fill="#c81414" filter="url(#rough)"/><path d="M793,257L941,257L941,287L793,287Z" fill="#a01450" filter="url(#rough)"/><path d="M616,999L679,960L731,950L747,929L822,929L834,960L844,924L874,924L886,960L957,1031L957,1210L616,1210Z" fill="#3ca5fa" filter="url(#rough)"/><path d="M634,1031L652,1015L679,1007L703,999L731,1003L751,1019L767,1031L787,1035L806,1031L826,1019L846,1015L862,1031L870,1051L874,1075L878,1099L874,1114L858,1122L838,1126L822,1110L806,1106L787,1099L767,1095L743,1097L719,1102L711,1091L695,1083L679,1079L660,1075L644,1067L636,1051Z" fill="#1482f0" filter="url(#rough)"/><path d="M810,1067L822,1059L830,1047L838,1035L846,1032L849,1043L841,1055L839,1067L831,1078L818,1080L810,1075Z" fill="#780078" filter="url(#rough)"/><path d="M862,1158L906,1158L906,1198L862,1198Z" fill="#64befa" filter="url(#rough)"/><path d="M997,1106L1156,1106L1156,1226L997,1226Z" fill="#3ca0fa" filter="url(#rough)"/><path d="M965,900L1164,900L1164,1106L965,1106Z" fill="#8cd2fa" filter="url(#rough)"/><path d="M260,1200L320,1200L320,1260L260,1260Z" fill="#6e1ea0" filter="url(#rough)"/></g>
</g></g>
<rect x="1375.2" y="3048.5" width="6.6" height="1177.8" fill="#000"/>
<rect x="1375.2" y="3048.5" width="954.8" height="11" fill="#000"/>
<rect x="2293.0" y="3048.5" width="9" height="1177.8" fill="#000"/>
<rect x="1375.2" y="4217.0" width="926.8" height="9.3" fill="#000"/>
<rect x="1375.8" y="4225.3" width="7.4" height="36.7" fill="#000"/>
<text class="tk" x="1357.0" y="4318.8">60<tspan class="dg" dy="-28">°</tspan><tspan dy="28">E</tspan></text>
<rect x="1599.8" y="4225.3" width="7.4" height="36.7" fill="#000"/>
<text class="tk" x="1575.5" y="4321.8">90<tspan class="dg" dy="-28">°</tspan><tspan dy="28">E</tspan></text>
<rect x="1814.3" y="4225.3" width="7.4" height="36.7" fill="#000"/>
<text class="tk" x="1770.3" y="4318.8">120<tspan class="dg" dy="-28">°</tspan><tspan dy="28">E</tspan></text>
<rect x="2038.3" y="4225.3" width="7.4" height="36.7" fill="#000"/>
<text class="tk" x="2004.4" y="4318.8">150<tspan class="dg" dy="-28">°</tspan><tspan dy="28">E</tspan></text>
<rect x="2289.6" y="4225.3" width="7.4" height="36.7" fill="#000"/>
<text class="tk" x="2202.5" y="4318.8">180<tspan class="dg" dy="-28">°</tspan><tspan dy="28">E</tspan></text>
<text class="tk" x="2339.8" y="3104.8">90<tspan class="dg" dy="-28">°</tspan><tspan dy="28">N</tspan></text>
<rect x="2301.0" y="3281.7" width="9.0" height="9" fill="#000"/>
<text class="tk" x="2342.8" y="3314.8">60<tspan class="dg" dy="-28">°</tspan><tspan dy="28">N</tspan></text>
<rect x="2301.0" y="3503.5" width="9.0" height="9" fill="#000"/>
<text class="tk" x="2342.8" y="3533.3">30<tspan class="dg" dy="-28">°</tspan><tspan dy="28">N</tspan></text>
<rect x="2301.0" y="3716.0" width="9.0" height="9" fill="#000"/>
<text class="tk" x="2342.8" y="3748.8">0<tspan class="dg" dy="-28">°</tspan></text>
<rect x="2301.0" y="3949.5" width="9.0" height="9" fill="#000"/>
<text class="tk" x="2342.8" y="3967.2">30<tspan class="dg" dy="-28">°</tspan><tspan dy="28">S</tspan></text>
<rect x="2301.0" y="4217.0" width="9.0" height="9" fill="#000"/>
<text class="tk" x="2342.8" y="4203.2">60<tspan class="dg" dy="-28">°</tspan><tspan dy="28">S</tspan></text>
</g>
<linearGradient id="cbfade" x1="0" y1="0" x2="0" y2="1"><stop offset="0" stop-color="#fff" stop-opacity="0"/><stop offset="0.75" stop-color="#fff" stop-opacity="0"/><stop offset="1" stop-color="#fff" stop-opacity="0.45"/></linearGradient>
<linearGradient id="cbg" x1="0" y1="0" x2="1" y2="0"><stop offset="0" stop-color="#780082"/><stop offset="0.12" stop-color="#3c00c8"/><stop offset="0.24" stop-color="#0000ff"/><stop offset="0.36" stop-color="#0078ff"/><stop offset="0.45" stop-color="#00c8ff"/><stop offset="0.49" stop-color="#d0f0ff"/><stop offset="0.5" stop-color="#ffffff"/><stop offset="0.51" stop-color="#c8ffe6"/><stop offset="0.54" stop-color="#64fab4"/><stop offset="0.59" stop-color="#00e650"/><stop offset="0.65" stop-color="#78f000"/><stop offset="0.71" stop-color="#ffff00"/><stop offset="0.82" stop-color="#ff9600"/><stop offset="0.92" stop-color="#ff3200"/><stop offset="1" stop-color="#e60000"/></linearGradient>
<rect x="851.0" y="1456" width="66.7" height="55" fill="#640082"/><rect x="917.2" y="1456" width="66.7" height="55" fill="#8c00e6"/><rect x="983.3" y="1456" width="66.7" height="55" fill="#1e3cf0"/><rect x="1049.5" y="1456" width="66.7" height="55" fill="#00a0f0"/><rect x="1115.7" y="1456" width="66.7" height="55" fill="#00cdcd"/><rect x="1181.8" y="1456" width="66.7" height="55" fill="#00d68f"/><rect x="1248.0" y="1456" width="66.7" height="55" fill="#a0eb32"/><rect x="1314.2" y="1456" width="66.7" height="55" fill="#f0f550"/><rect x="1380.3" y="1456" width="66.7" height="55" fill="#f0aa32"/><rect x="1446.5" y="1456" width="66.7" height="55" fill="#fa8228"/><rect x="1512.7" y="1456" width="66.7" height="55" fill="#fa413c"/><rect x="1578.8" y="1456" width="66.7" height="55" fill="#e10f0f"/>
<rect x="851" y="1456" width="794" height="55" fill="url(#cbfade)"/>
<text class="cb" x="818" y="1575" textLength="140" lengthAdjust="spacingAndGlyphs">0.940</text><text class="cb" x="1064" y="1575" textLength="146" lengthAdjust="spacingAndGlyphs">0.960</text><text class="cb" x="1317" y="1575" textLength="141" lengthAdjust="spacingAndGlyphs">0.980</text><text class="cb" x="1640" y="1575" textLength="24" lengthAdjust="spacingAndGlyphs">1</text>
<text class="cb" x="1673" y="1502" textLength="271" lengthAdjust="spacingAndGlyphs">Emissivity</text>
<rect x="866.0" y="2902" width="67.3" height="55" fill="#640082"/><rect x="932.8" y="2902" width="67.3" height="55" fill="#8c00e6"/><rect x="999.7" y="2902" width="67.3" height="55" fill="#1e3cf0"/><rect x="1066.5" y="2902" width="67.3" height="55" fill="#00a0f0"/><rect x="1133.3" y="2902" width="67.3" height="55" fill="#00cdcd"/><rect x="1200.2" y="2902" width="67.3" height="55" fill="#00d68f"/><rect x="1267.0" y="2902" width="67.3" height="55" fill="#a0eb32"/><rect x="1333.8" y="2902" width="67.3" height="55" fill="#f0f550"/><rect x="1400.7" y="2902" width="67.3" height="55" fill="#f0aa32"/><rect x="1467.5" y="2902" width="67.3" height="55" fill="#fa8228"/><rect x="1534.3" y="2902" width="67.3" height="55" fill="#fa413c"/><rect x="1601.2" y="2902" width="67.3" height="55" fill="#e10f0f"/>
<rect x="866" y="2902" width="802" height="55" fill="url(#cbfade)"/>
<text class="cb" x="827" y="3016.5" textLength="147" lengthAdjust="spacingAndGlyphs">0.940</text><text class="cb" x="1078" y="3016.5" textLength="148" lengthAdjust="spacingAndGlyphs">0.960</text><text class="cb" x="1334" y="3016.5" textLength="144" lengthAdjust="spacingAndGlyphs">0.980</text><text class="cb" x="1662" y="3016.5" textLength="24" lengthAdjust="spacingAndGlyphs">1</text>
<text class="cb" x="1693" y="2946" textLength="273" lengthAdjust="spacingAndGlyphs">Emissivity</text>
<rect x="884" y="4355" width="773" height="55" fill="url(#cbg)"/>
<text class="cb" x="833" y="4474" textLength="159" lengthAdjust="spacingAndGlyphs">-0.012</text><text class="cb" x="1263" y="4474" textLength="29" lengthAdjust="spacingAndGlyphs">0</text><text class="cb" x="1602" y="4474" textLength="140" lengthAdjust="spacingAndGlyphs">0.012</text>
<text class="cb" x="1677" y="4400" textLength="280" lengthAdjust="spacingAndGlyphs">Dif. Emiss.</text>
<g id="north"><text x="2302" y="4392.6" textLength="31" lengthAdjust="spacingAndGlyphs" style="font-family:'Liberation Sans',sans-serif;font-size:49px;fill:#1a1a1a">N</text><path d="M2315.4,4404 L2348.5,4513 L2315,4473.5 L2285.5,4513 Z" fill="#fff" stroke="#000" stroke-width="3" stroke-linejoin="miter"/><path d="M2315.4,4404 L2315,4473.5 L2285.5,4513 Z" fill="#000"/></g>
</svg></body></html>
